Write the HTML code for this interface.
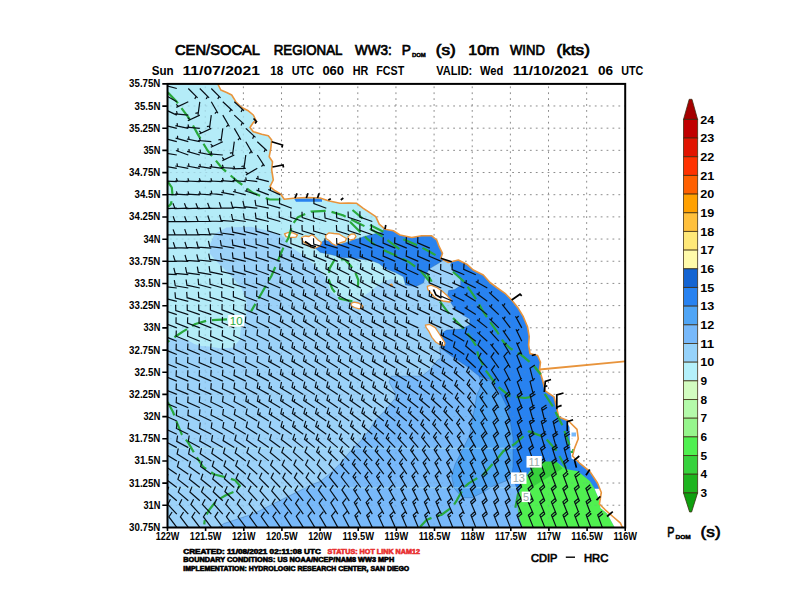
<!DOCTYPE html>
<html><head><meta charset="utf-8"><title>CEN/SOCAL REGIONAL WW3</title>
<style>
html,body{margin:0;padding:0;background:#fff;}
body{width:792px;height:612px;position:relative;overflow:hidden;font-family:"Liberation Sans",sans-serif;}
svg text{font-family:"Liberation Sans",sans-serif;}
</style></head><body>
<svg width="792" height="612" viewBox="0 0 792 612" style="position:absolute;left:0;top:0">
<defs>
<clipPath id="cf"><rect x="167.5" y="83.9" width="457.7" height="443.6"/></clipPath>
<clipPath id="cs"><polygon points="167.5,83.9 218.3,84.0 218.3,85.0 220.8,90.0 226.7,92.5 231.7,95.0 235.8,101.7 241.7,107.5 248.3,110.8 253.3,115.0 255.8,120.0 253.3,122.5 250.0,127.5 253.3,131.7 261.7,134.2 268.3,135.8 271.7,140.0 270.8,148.3 269.2,156.7 272.5,161.7 271.7,170.0 273.3,180.0 270.0,186.7 275.0,190.8 280.8,194.2 284.2,199.2 293.3,198.3 306.7,197.5 320.0,198.0 328.3,200.8 340.0,203.3 348.3,203.0 356.7,203.3 363.3,208.3 368.3,211.7 375.8,216.7 379.2,224.2 385.0,229.2 393.3,230.8 400.0,235.0 411.7,237.5 421.7,235.8 431.7,235.8 436.7,240.0 439.2,246.7 442.5,253.3 440.8,258.3 448.3,262.5 458.3,260.0 466.7,264.2 473.3,270.0 483.3,275.0 490.0,282.5 496.7,287.5 505.0,293.3 511.7,300.0 518.3,308.3 523.3,316.7 527.5,326.7 529.2,336.7 528.6,345.0 530.0,353.6 537.6,355.5 540.5,362.2 539.5,370.0 542.4,379.5 545.3,391.0 554.0,396.8 556.8,408.3 558.7,417.0 568.3,420.8 577.0,429.4 578.3,438.8 574.5,448.4 572.5,456.0 580.2,463.7 589.8,471.4 597.5,483.0 601.3,492.5 599.4,504.0 605.2,509.8 612.8,516.5 620.5,523.2 622.4,527.5 167.5,527.5"/></clipPath>
</defs>
<rect width="792" height="612" fill="#fff"/>
<g stroke="#8c8c8c" stroke-opacity="1" stroke-width="1" stroke-dasharray="1.8 4.1" fill="none"><path d="M205.24 86.4V527.5"/><path d="M243.38 86.4V527.5"/><path d="M281.53 86.4V527.5"/><path d="M319.67 86.4V527.5"/><path d="M357.81 86.4V527.5"/><path d="M395.95 86.4V527.5"/><path d="M434.09 86.4V527.5"/><path d="M472.23 86.4V527.5"/><path d="M510.38 86.4V527.5"/><path d="M548.52 86.4V527.5"/><path d="M586.66 86.4V527.5"/><path d="M170.0 105.98H625.2"/><path d="M170.0 128.16H625.2"/><path d="M170.0 150.34H625.2"/><path d="M170.0 172.52H625.2"/><path d="M170.0 194.70H625.2"/><path d="M170.0 216.88H625.2"/><path d="M170.0 239.06H625.2"/><path d="M170.0 261.24H625.2"/><path d="M170.0 283.42H625.2"/><path d="M170.0 305.60H625.2"/><path d="M170.0 327.78H625.2"/><path d="M170.0 349.96H625.2"/><path d="M170.0 372.14H625.2"/><path d="M170.0 394.32H625.2"/><path d="M170.0 416.50H625.2"/><path d="M170.0 438.68H625.2"/><path d="M170.0 460.86H625.2"/><path d="M170.0 483.04H625.2"/><path d="M170.0 505.22H625.2"/></g>
<g clip-path="url(#cf)">
<g clip-path="url(#cs)">
<polygon points="167.5,83.9 218.3,84.0 218.3,85.0 220.8,90.0 226.7,92.5 231.7,95.0 235.8,101.7 241.7,107.5 248.3,110.8 253.3,115.0 255.8,120.0 253.3,122.5 250.0,127.5 253.3,131.7 261.7,134.2 268.3,135.8 271.7,140.0 270.8,148.3 269.2,156.7 272.5,161.7 271.7,170.0 273.3,180.0 270.0,186.7 275.0,190.8 280.8,194.2 284.2,199.2 293.3,198.3 306.7,197.5 320.0,198.0 328.3,200.8 340.0,203.3 348.3,203.0 356.7,203.3 363.3,208.3 368.3,211.7 375.8,216.7 379.2,224.2 385.0,229.2 393.3,230.8 400.0,235.0 411.7,237.5 421.7,235.8 431.7,235.8 436.7,240.0 439.2,246.7 442.5,253.3 440.8,258.3 448.3,262.5 458.3,260.0 466.7,264.2 473.3,270.0 483.3,275.0 490.0,282.5 496.7,287.5 505.0,293.3 511.7,300.0 518.3,308.3 523.3,316.7 527.5,326.7 529.2,336.7 528.6,345.0 530.0,353.6 537.6,355.5 540.5,362.2 539.5,370.0 542.4,379.5 545.3,391.0 554.0,396.8 556.8,408.3 558.7,417.0 568.3,420.8 577.0,429.4 578.3,438.8 574.5,448.4 572.5,456.0 580.2,463.7 589.8,471.4 597.5,483.0 601.3,492.5 599.4,504.0 605.2,509.8 612.8,516.5 620.5,523.2 622.4,527.5 167.5,527.5" fill="#b4ecf8"/>
<polygon points="167.5,337.7 177.7,338.2 189.5,341.2 194.4,344.1 201.3,346.0 208.8,346.4 222.1,348.6 233.1,347.5 239.7,339.8 240.8,328.8 244.2,322.1 246.4,313.3 246.4,300.0 241.9,289.0 233.1,278.0 224.3,269.2 215.5,260.3 209.9,253.7 209.9,244.9 214.5,234.0 226.5,227.5 251.1,226.8 271.4,231.5 284.0,237.0 290.0,246.3 302.1,254.4 316.3,266.6 326.4,278.7 330.5,290.9 342.6,301.0 356.8,301.0 371.0,290.9 381.1,282.8 391.2,278.7 405.4,284.8 415.5,286.8 423.6,282.8 425.6,274.7 429.7,268.6 439.8,262.5 441.8,258.5 448.0,262.0 455.0,266.0 465.0,272.0 480.0,285.0 500.0,300.0 520.0,330.0 535.0,380.0 560.0,440.0 600.0,527.5 167.5,527.5" fill="#9cd2f9"/>
<polygon points="439.7,347.0 441.0,358.4 437.7,360.0 429.6,370.1 421.5,376.2 391.1,376.2 389.1,382.3 395.1,392.4 395.1,398.5 385.0,410.6 374.9,420.7 368.8,430.9 360.7,441.0 350.6,451.1 340.5,463.2 330.4,473.4 320.2,481.5 312.5,484.3 285.0,498.0 253.7,513.7 224.0,523.5 218.0,527.5 600.0,527.5 560.0,440.0 535.0,380.0 520.0,340.0 480.0,340.0" fill="#78b9fa" stroke="#2a5a98" stroke-opacity="0.45" stroke-width="0.8"/>
<polygon points="479.0,376.0 481.5,383.7 479.3,390.0 476.9,394.4 474.5,408.8 472.0,420.8 469.7,435.2 462.5,449.7 455.2,464.0 451.6,476.0 454.0,488.0 462.5,497.7 472.0,497.7 481.7,493.0 493.7,485.7 505.7,481.0 513.0,476.0 520.0,470.0 520.0,400.0 500.0,385.0" fill="#50a5f5" stroke="#2a5a98" stroke-opacity="0.45" stroke-width="0.8"/>
<polygon points="314.3,247.3 324.4,240.2 340.6,244.3 350.7,241.3 352.0,240.0 360.0,238.3 363.3,236.7 383.3,231.7 384.0,225.0 445.0,225.0 445.0,258.5 439.8,262.5 429.7,268.6 425.6,274.7 423.6,282.8 415.5,286.8 405.4,284.8 403.4,276.7 395.3,272.6 385.1,268.6 379.1,263.5 371.0,260.5 356.8,258.5 342.6,257.4 330.5,254.4 320.4,252.4" fill="#2882f0" stroke="#2a5a98" stroke-opacity="0.45" stroke-width="0.8"/>
<polygon points="294.0,198.6 322.0,198.4 322.0,201.8 296.0,201.8" fill="#2882f0"/>
<polygon points="451.6,261.3 450.6,265.3 453.6,272.4 460.7,278.5 460.7,285.5 454.7,289.6 448.6,290.6 447.6,295.7 449.6,300.7 454.7,308.8 462.8,314.9 469.8,319.0 469.8,325.0 460.7,329.1 446.6,330.1 440.5,334.1 439.5,341.2 441.0,348.2 451.1,355.8 466.3,366.0 479.0,376.0 491.3,380.0 500.9,394.4 508.0,408.8 510.5,423.2 513.0,437.6 513.0,452.0 513.0,466.5 511.7,476.0 517.7,490.0 517.7,505.0 518.9,517.0 522.5,527.5 640.0,527.5 640.0,255.0 452.0,255.0" fill="#2882f0" stroke="#2a5a98" stroke-opacity="0.45" stroke-width="0.8"/>
<polygon points="518.9,492.9 522.5,483.3 529.7,471.3 541.7,462.9 556.1,461.7 565.7,468.9 577.8,471.3 589.8,480.9 594.6,488.7 599.4,500.2 600.4,507.9 607.1,513.6 614.8,527.5 522.5,527.5 518.9,517.0 517.7,505.0" fill="#50f050"/>
<polygon points="541.8,461.5 556.2,461.5 562.5,468.5 531.5,487.5 529.5,474.0 534.0,467.0" fill="#37d23c"/>
<polygon points="566.5,421.8 569.5,427 570,445 571.5,458.5 576,461 582,461 582,421.8" fill="#fff"/>
<rect x="571.5" y="432.5" width="4.5" height="4" fill="#78b9fa"/><rect x="572" y="449" width="3" height="4" fill="#50c060"/>
<polygon points="594.6,488.7 599.4,500.2 600.4,507.9 607.1,513.6 614.8,527.5 640,527.5 640,488.7" fill="#fff"/>
<path d="M167 448.2H520M167 487.8H520" stroke="#c8f8e8" stroke-opacity="0.45" stroke-width="1" fill="none"/>
<g stroke="#7090a0" stroke-opacity="0.28" stroke-width="1" stroke-dasharray="1.8 4.1" fill="none"><path d="M205.24 86.4V527.5"/><path d="M243.38 86.4V527.5"/><path d="M281.53 86.4V527.5"/><path d="M319.67 86.4V527.5"/><path d="M357.81 86.4V527.5"/><path d="M395.95 86.4V527.5"/><path d="M434.09 86.4V527.5"/><path d="M472.23 86.4V527.5"/><path d="M510.38 86.4V527.5"/><path d="M548.52 86.4V527.5"/><path d="M586.66 86.4V527.5"/><path d="M170.0 105.98H625.2"/><path d="M170.0 128.16H625.2"/><path d="M170.0 150.34H625.2"/><path d="M170.0 172.52H625.2"/><path d="M170.0 194.70H625.2"/><path d="M170.0 216.88H625.2"/><path d="M170.0 239.06H625.2"/><path d="M170.0 261.24H625.2"/><path d="M170.0 283.42H625.2"/><path d="M170.0 305.60H625.2"/><path d="M170.0 327.78H625.2"/><path d="M170.0 349.96H625.2"/><path d="M170.0 372.14H625.2"/><path d="M170.0 394.32H625.2"/><path d="M170.0 416.50H625.2"/><path d="M170.0 438.68H625.2"/><path d="M170.0 460.86H625.2"/><path d="M170.0 483.04H625.2"/><path d="M170.0 505.22H625.2"/></g>
</g>
<polygon points="284.5,233.8 288.0,232.5 293.0,232.8 297.5,234.8 296.0,237.2 290.0,237.5 286.0,236.6" fill="#fff" stroke="#e8943c" stroke-width="1.3" stroke-linejoin="round"/>
<polygon points="301.5,237.5 305.0,236.0 309.0,236.5 312.0,234.5 315.0,237.0 318.0,240.0 321.5,242.5 320.0,246.0 315.0,248.0 311.0,247.5 307.0,244.5 303.0,241.5" fill="#fff" stroke="#e8943c" stroke-width="1.3" stroke-linejoin="round"/>
<polygon points="325.5,235.5 329.0,232.8 334.0,233.5 339.0,234.0 343.0,236.5 346.5,238.5 345.0,241.5 340.0,242.8 336.0,245.5 332.0,243.5 329.0,240.5 326.0,238.5" fill="#fff" stroke="#e8943c" stroke-width="1.3" stroke-linejoin="round"/>
<polygon points="348.0,236.5 351.0,234.2 354.5,234.0 356.0,236.5 354.0,239.2 350.5,240.0 348.3,238.8" fill="#fff" stroke="#e8943c" stroke-width="1.3" stroke-linejoin="round"/>
<polygon points="427.3,286.3 431.0,285.2 436.5,287.3 442.0,291.0 447.0,295.5 451.0,300.0 449.5,302.0 443.0,301.0 437.5,299.5 433.5,296.0 430.5,292.5 427.8,289.5" fill="#fff" stroke="#e8943c" stroke-width="1.3" stroke-linejoin="round"/>
<polygon points="425.4,325.1 429.4,324.3 435.2,327.6 438.4,332.5 441.7,337.4 445.0,343.1 444.2,345.6 440.1,344.7 436.0,342.3 431.9,337.4 428.6,330.8 426.2,327.6" fill="#fff" stroke="#e8943c" stroke-width="1.3" stroke-linejoin="round"/>
<polygon points="390.3,284.6 391.8,284.2 392.3,285.6 390.8,286.2" fill="#fff" stroke="#e8943c" stroke-width="1.3" stroke-linejoin="round"/>
<polygon points="350.9,303.5 354.0,302.2 358.5,303.0 362.5,305.5 362.8,308.0 359.0,308.8 354.5,307.5 351.5,305.8" fill="#fff" stroke="#e8943c" stroke-width="1.3" stroke-linejoin="round"/>
<polyline points="218.3,84.0 218.3,85.0 220.8,90.0 226.7,92.5 231.7,95.0 235.8,101.7 241.7,107.5 248.3,110.8 253.3,115.0 255.8,120.0 253.3,122.5 250.0,127.5 253.3,131.7 261.7,134.2 268.3,135.8 271.7,140.0 270.8,148.3 269.2,156.7 272.5,161.7 271.7,170.0 273.3,180.0 270.0,186.7 275.0,190.8 280.8,194.2 284.2,199.2 293.3,198.3 306.7,197.5 320.0,198.0 328.3,200.8 340.0,203.3 348.3,203.0 356.7,203.3 363.3,208.3 368.3,211.7 375.8,216.7 379.2,224.2 385.0,229.2 393.3,230.8 400.0,235.0 411.7,237.5 421.7,235.8 431.7,235.8 436.7,240.0 439.2,246.7 442.5,253.3 440.8,258.3 448.3,262.5 458.3,260.0 466.7,264.2 473.3,270.0 483.3,275.0 490.0,282.5 496.7,287.5 505.0,293.3 511.7,300.0 518.3,308.3 523.3,316.7 527.5,326.7 529.2,336.7 528.6,345.0 530.0,353.6 537.6,355.5 540.5,362.2 539.5,370.0 542.4,379.5 545.3,391.0 554.0,396.8 556.8,408.3 558.7,417.0 568.3,420.8 577.0,429.4 578.3,438.8 574.5,448.4 572.5,456.0 580.2,463.7 589.8,471.4 597.5,483.0 601.3,492.5 599.4,504.0 605.2,509.8 612.8,516.5 620.5,523.2 622.4,527.5" fill="none" stroke="#e8943c" stroke-width="1.6" stroke-linejoin="round"/>
<path d="M539.5 369.5L625 361.3" stroke="#e8943c" stroke-width="1.8" fill="none"/>
<polyline points="167.7,92.3 176.3,101.2 188.6,117.6 197.6,133.9 207.4,150.3 222.1,168.2 237.7,181.5 252.8,192.8 269.7,199.5 284.7,199.5" fill="none" stroke="#28a83c" stroke-width="2.2" stroke-dasharray="15 6" stroke-linecap="butt" stroke-linejoin="round"/>
<polyline points="167.8,181.6 171.8,187.5 172.7,197.3 170.8,204.1 167.8,207.0" fill="none" stroke="#28a83c" stroke-width="2.2" stroke-dasharray="15 6" stroke-linecap="butt" stroke-linejoin="round"/>
<polyline points="399.4,249.2 384.4,237.9 373.0,230.4 358.0,222.9 343.0,215.3 328.0,210.8 311.0,211.6 297.9,217.2 292.3,224.7 288.5,237.9 284.0,246.0 279.0,258.2 271.4,276.0 261.3,293.7 251.1,311.4" fill="none" stroke="#28a83c" stroke-width="2.2" stroke-dasharray="15 6" stroke-linecap="butt" stroke-linejoin="round"/>
<polyline points="227.0,319.3 208.1,320.3 195.4,324.0 182.8,331.6 167.6,341.8" fill="none" stroke="#28a83c" stroke-width="2.2" stroke-dasharray="15 6" stroke-linecap="butt" stroke-linejoin="round"/>
<polyline points="167.7,402.0 173.0,412.0 177.2,423.3 182.0,434.8 188.2,442.6 195.7,455.7 203.2,467.0 214.5,474.5 225.8,477.3 235.2,480.2 239.9,485.8 235.2,491.4 225.8,495.2 216.4,500.8 208.9,510.2 205.1,517.7 204.2,524.3" fill="none" stroke="#28a83c" stroke-width="2.2" stroke-dasharray="15 6" stroke-linecap="butt" stroke-linejoin="round"/>
<polyline points="352.4,301.3 339.7,298.7 332.2,288.6 328.4,278.5 329.6,268.4 334.7,259.5 344.8,259.5 350.0,265.0 355.0,271.7 358.3,280.0 357.5,291.7" fill="none" stroke="#28a83c" stroke-width="2.2" stroke-dasharray="15 6" stroke-linecap="butt" stroke-linejoin="round"/>
<polyline points="352.5,210.0 362.5,218.3" fill="none" stroke="#28a83c" stroke-width="2.2" stroke-dasharray="15 6" stroke-linecap="butt" stroke-linejoin="round"/>
<polyline points="350.0,221.7 360.0,231.7 366.7,238.3 375.0,245.0" fill="none" stroke="#28a83c" stroke-width="2.2" stroke-dasharray="15 6" stroke-linecap="butt" stroke-linejoin="round"/>
<polyline points="370.0,225.0 383.3,231.7" fill="none" stroke="#28a83c" stroke-width="2.2" stroke-dasharray="15 6" stroke-linecap="butt" stroke-linejoin="round"/>
<polyline points="383.3,250.0 398.3,256.7 408.3,261.7 420.0,270.0 428.3,280.0 433.3,285.0" fill="none" stroke="#28a83c" stroke-width="2.2" stroke-dasharray="15 6" stroke-linecap="butt" stroke-linejoin="round"/>
<polyline points="403.3,239.2 416.7,245.0 426.7,250.0 438.3,256.7" fill="none" stroke="#28a83c" stroke-width="2.2" stroke-dasharray="15 6" stroke-linecap="butt" stroke-linejoin="round"/>
<polyline points="426.7,273.3 431.7,281.7" fill="none" stroke="#28a83c" stroke-width="2.2" stroke-dasharray="15 6" stroke-linecap="butt" stroke-linejoin="round"/>
<polyline points="440.0,301.7 445.0,308.3 450.0,315.0 455.0,320.0 463.3,328.3 470.0,336.7 476.7,346.7 478.0,354.9 485.9,370.6 497.6,386.3 509.4,396.0 525.0,398.0 536.9,396.0" fill="none" stroke="#28a83c" stroke-width="2.2" stroke-dasharray="15 6" stroke-linecap="butt" stroke-linejoin="round"/>
<polyline points="453.0,271.7 463.3,281.0 470.0,290.0 476.7,300.0 483.3,311.7 490.0,321.7 497.0,331.5 503.3,341.7 510.0,348.3 521.2,354.9 532.9,364.7 540.8,374.5" fill="none" stroke="#28a83c" stroke-width="2.2" stroke-dasharray="15 6" stroke-linecap="butt" stroke-linejoin="round"/>
<polyline points="544.7,394.0 552.5,405.9 562.4,425.5 568.2,441.2 572.0,453.0" fill="none" stroke="#28a83c" stroke-width="2.2" stroke-dasharray="15 6" stroke-linecap="butt" stroke-linejoin="round"/>
<polyline points="420.0,527.0 426.5,519.9 434.7,516.6 441.2,515.0 452.7,506.8 456.8,500.3 464.1,487.2 469.0,483.1 483.7,474.1 496.8,459.4 503.3,451.2 514.8,443.9 529.0,431.4 544.7,437.3 556.0,450.0 566.0,468.0" fill="none" stroke="#28a83c" stroke-width="2.2" stroke-dasharray="15 6" stroke-linecap="butt" stroke-linejoin="round"/>
<polyline points="515.3,507.8 519.2,488.2 527.0,472.5 536.9,464.7" fill="none" stroke="#28a83c" stroke-width="2.2" stroke-dasharray="15 6" stroke-linecap="butt" stroke-linejoin="round"/>
<path d="M176.8 527.4L168.9 516.9l3.2 -4.9M188.3 527.4L180.4 516.9l3.2 -4.9M199.8 527.4L191.9 516.9l3.2 -4.9M211.3 527.4L203.4 516.9l3.2 -4.9M222.8 527.4L214.9 516.8l3.2 -4.9M234.3 527.4L226.4 516.8l3.2 -4.8M245.8 527.4L238.0 516.8l3.2 -4.8M257.3 527.4L249.6 516.7l3.3 -4.8M268.8 527.4L261.2 516.6l3.3 -4.7M280.3 527.4L272.9 516.5l3.4 -4.7M291.8 527.4L284.6 516.4l3.5 -4.6M303.3 527.4L296.3 516.2l3.6 -4.6M314.8 527.4L308.0 516.1l3.6 -4.5M326.3 527.4L319.7 516.0l3.7 -4.4M337.8 527.4L331.5 515.8l3.8 -4.4M349.3 527.4L343.2 515.7l3.9 -4.3M360.8 527.4L354.9 515.6l4.0 -4.2M356.0 517.7l2.1 -2.2M372.3 527.4L366.7 515.5l4.1 -4.1M367.7 517.6l2.1 -2.1M383.8 527.4L378.3 515.4l4.1 -4.1M379.3 517.6l2.1 -2.1M395.3 527.4L389.9 515.3l4.2 -4.0M390.9 517.5l2.2 -2.1M406.8 527.4L401.6 515.3l4.2 -4.0M402.5 517.5l2.2 -2.1M418.3 527.4L413.2 515.2l4.2 -3.9M414.1 517.5l2.2 -2.0M429.8 527.4L424.7 515.2l4.3 -3.9M425.6 517.4l2.2 -2.0M441.3 527.4L436.3 515.2l4.3 -3.9M437.2 517.4l2.2 -2.0M452.8 527.4L447.8 515.2l4.3 -3.9M448.7 517.4l2.2 -2.0M464.3 527.4L459.4 515.2l4.3 -3.9M460.3 517.4l2.2 -2.0M475.8 527.4L470.9 515.2l4.3 -3.9M471.8 517.4l4.3 -3.9M487.3 527.4L482.4 515.2l4.3 -3.9M483.3 517.4l4.3 -3.9M498.8 527.4L493.9 515.2l4.3 -3.9M494.8 517.4l4.3 -3.9M510.3 527.4L505.4 515.2l4.3 -3.9M506.3 517.4l4.3 -3.9M521.8 527.4L516.9 515.2l4.3 -3.9M517.8 517.4l4.3 -3.9M533.3 527.4L528.4 515.2l4.3 -3.9M529.3 517.4l4.3 -3.9M544.8 527.4L539.9 515.1l4.3 -3.9M540.8 517.4l4.3 -3.9M556.3 527.4L551.5 515.1l4.3 -3.8M552.3 517.3l4.3 -3.8M567.8 527.4L563.0 515.1l4.4 -3.8M563.9 517.3l4.4 -3.8M579.3 527.4L574.6 515.1l4.4 -3.8M575.4 517.3l4.4 -3.8M590.8 527.4L586.2 515.0l4.4 -3.8M587.0 517.3l4.4 -3.8M602.3 527.4L597.7 515.0l4.4 -3.8M598.6 517.3l4.4 -3.8M176.8 514.1L167.8 504.5l2.6 -5.2M188.3 514.1L179.3 504.4l2.6 -5.2M199.8 514.1L190.9 504.4l2.7 -5.2M211.3 514.1L202.4 504.3l2.7 -5.1M222.8 514.1L214.0 504.2l2.8 -5.1M234.3 514.1L225.7 504.1l2.8 -5.1M245.8 514.1L237.3 504.0l2.9 -5.0M257.3 514.1L249.0 503.9l3.0 -5.0M268.8 514.1L260.6 503.7l3.0 -4.9M280.3 514.1L272.3 503.6l3.1 -4.9M291.8 514.1L283.9 503.5l3.2 -4.8M303.3 514.1L295.6 503.4l3.3 -4.8M314.8 514.1L307.3 503.2l3.4 -4.7M326.3 514.1L319.1 503.1l3.5 -4.6M337.8 514.1L330.8 502.9l3.6 -4.6M349.3 514.1L342.6 502.8l3.7 -4.5M360.8 514.1L354.3 502.6l3.8 -4.4M355.5 504.7l2.0 -2.3M372.3 514.1L366.1 502.5l3.9 -4.3M367.2 504.6l2.0 -2.2M383.8 514.1L377.8 502.4l3.9 -4.3M378.9 504.5l2.0 -2.2M395.3 514.1L389.4 502.3l4.0 -4.2M390.5 504.4l2.1 -2.2M406.8 514.1L401.1 502.2l4.1 -4.1M402.1 504.4l2.1 -2.1M418.3 514.1L412.8 502.1l4.1 -4.1M413.8 504.3l2.1 -2.1M429.8 514.1L424.4 502.1l4.1 -4.1M425.3 504.3l2.1 -2.1M441.3 514.1L435.9 502.0l4.2 -4.0M436.9 504.2l2.2 -2.1M452.8 514.1L447.5 502.0l4.2 -4.0M448.5 504.2l2.2 -2.1M464.3 514.1L459.1 502.0l4.2 -4.0M460.0 504.2l2.2 -2.1M475.8 514.1L470.6 502.0l4.2 -4.0M471.5 504.2l4.2 -4.0M487.3 514.1L482.1 502.0l4.2 -4.0M483.1 504.2l4.2 -4.0M498.8 514.1L493.7 501.9l4.2 -3.9M494.6 504.2l4.2 -3.9M510.3 514.1L505.2 501.9l4.3 -3.9M506.1 504.1l4.3 -3.9M521.8 514.1L516.7 501.9l4.3 -3.9M517.6 504.1l4.3 -3.9M533.3 514.1L528.2 501.9l4.3 -3.9M529.2 504.1l4.3 -3.9M544.8 514.1L539.8 501.9l4.3 -3.9M540.7 504.1l4.3 -3.9M556.3 514.1L551.4 501.9l4.3 -3.9M552.3 504.1l4.3 -3.9M567.8 514.1L562.9 501.8l4.3 -3.9M563.8 504.1l4.3 -3.9M579.3 514.1L574.5 501.8l4.4 -3.8M575.4 504.0l4.4 -3.8M590.8 514.1L586.1 501.8l4.4 -3.8M586.9 504.0l4.4 -3.8M176.8 500.8L166.8 492.2l2.0 -5.4M188.3 500.8L178.3 492.1l2.1 -5.4M199.8 500.8L189.9 492.0l2.1 -5.4M211.3 500.8L201.5 491.9l2.2 -5.4M222.8 500.8L213.2 491.8l2.3 -5.3M234.3 500.8L224.9 491.5l2.4 -5.3M245.8 500.8L236.6 491.3l2.6 -5.2M257.3 500.8L248.4 491.1l2.7 -5.2M268.8 500.8L260.0 491.0l2.7 -5.1M280.3 500.8L271.7 490.8l2.8 -5.1M291.8 500.8L283.3 490.7l2.9 -5.0M303.3 500.8L295.0 490.5l3.0 -5.0M314.8 500.8L306.7 490.4l3.1 -4.9M326.3 500.8L318.4 490.2l3.2 -4.8M337.8 500.8L330.1 490.0l3.3 -4.8M349.3 500.8L341.9 489.9l3.4 -4.7M360.8 500.8L353.7 489.7l3.5 -4.6M355.0 491.7l1.8 -2.4M372.3 500.8L365.5 489.5l3.6 -4.5M366.7 491.6l1.9 -2.3M383.8 500.8L377.2 489.4l3.7 -4.4M378.4 491.4l1.9 -2.3M395.3 500.8L388.9 489.2l3.8 -4.4M390.1 491.3l2.0 -2.3M406.8 500.8L400.7 489.1l3.9 -4.3M401.8 491.2l2.0 -2.2M418.3 500.8L412.4 489.0l4.0 -4.2M413.4 491.2l2.1 -2.2M429.8 500.8L424.0 489.0l4.0 -4.2M425.0 491.1l2.1 -2.2M441.3 500.8L435.6 488.9l4.1 -4.1M436.6 491.1l2.1 -2.1M452.8 500.8L447.2 488.8l4.1 -4.1M448.2 491.0l2.1 -2.1M464.3 500.8L458.8 488.8l4.1 -4.1M459.8 491.0l2.1 -2.1M475.8 500.8L470.3 488.8l4.1 -4.1M471.3 491.0l4.1 -4.1M487.3 500.8L481.9 488.8l4.2 -4.0M482.9 490.9l4.2 -4.0M498.8 500.8L493.5 488.7l4.2 -4.0M494.4 490.9l4.2 -4.0M510.3 500.8L505.0 488.7l4.2 -4.0M506.0 490.9l4.2 -4.0M521.8 500.8L516.6 488.7l4.2 -4.0M517.5 490.9l4.2 -4.0M533.3 500.8L528.1 488.7l4.2 -4.0M529.1 490.9l4.2 -4.0M544.8 500.8L539.7 488.6l4.3 -3.9M540.6 490.8l4.3 -3.9M556.3 500.8L551.3 488.6l4.3 -3.9M552.2 490.8l4.3 -3.9M567.8 500.8L562.8 488.6l4.3 -3.9M563.7 490.8l4.3 -3.9M579.3 500.8L574.4 488.5l4.3 -3.9M575.3 490.8l4.3 -3.9M590.8 500.8L585.9 488.5l4.3 -3.8M586.8 490.8l4.3 -3.8M176.8 487.5L166.3 479.5l1.7 -5.5M188.3 487.5L177.9 479.4l1.8 -5.5M199.8 487.5L189.4 479.3l1.8 -5.5M211.3 487.5L201.0 479.2l1.9 -5.5M222.8 487.5L212.7 479.0l2.0 -5.4M234.3 487.5L224.4 478.8l2.1 -5.4M245.8 487.5L236.1 478.5l2.3 -5.3M257.3 487.5L247.8 478.3l2.4 -5.3M268.8 487.5L259.5 478.1l2.5 -5.3M280.3 487.5L271.1 478.0l2.5 -5.2M291.8 487.5L282.8 477.9l2.6 -5.2M303.3 487.5L294.4 477.7l2.7 -5.1M314.8 487.5L306.1 477.6l2.8 -5.1M326.3 487.5L317.8 477.4l2.9 -5.0M337.8 487.5L329.5 477.2l3.0 -5.0M349.3 487.5L341.3 477.0l3.1 -4.9M360.8 487.5L353.0 476.8l3.2 -4.8M354.4 478.8l1.7 -2.5M372.3 487.5L364.8 476.6l3.4 -4.7M366.2 478.6l1.7 -2.4M383.8 487.5L376.6 476.5l3.5 -4.6M377.9 478.5l1.8 -2.4M395.3 487.5L388.3 476.3l3.6 -4.6M389.6 478.3l1.9 -2.4M406.8 487.5L400.1 476.1l3.7 -4.5M401.3 478.2l1.9 -2.3M418.3 487.5L411.9 476.0l3.8 -4.4M413.0 478.1l2.0 -2.3M429.8 487.5L423.5 475.9l3.9 -4.3M424.7 478.0l2.0 -2.2M441.3 487.5L435.2 475.8l3.9 -4.3M436.3 477.9l2.0 -2.2M452.8 487.5L446.9 475.7l4.0 -4.2M448.0 477.8l2.1 -2.2M464.3 487.5L458.6 475.6l4.0 -4.2M459.6 477.8l2.1 -2.1M475.8 487.5L470.2 475.5l4.1 -4.1M471.2 477.7l2.1 -2.1M487.3 487.5L481.8 475.5l4.1 -4.1M482.8 477.7l4.1 -4.1M498.8 487.5L493.5 475.4l4.2 -4.0M494.4 477.6l4.2 -4.0M510.3 487.5L505.1 475.4l4.2 -4.0M506.0 477.6l4.2 -4.0M521.8 487.5L516.7 475.3l4.3 -3.9M517.6 477.5l4.3 -3.9M533.3 487.5L528.3 475.3l4.3 -3.9M529.2 477.5l4.3 -3.9M544.8 487.5L539.9 475.2l4.3 -3.9M540.8 477.5l4.3 -3.9M556.3 487.5L551.6 475.2l4.4 -3.8M552.4 477.4l4.4 -3.8M567.8 487.5L563.2 475.1l4.4 -3.8M564.0 477.4l4.4 -3.8M579.3 487.5L574.8 475.1l4.5 -3.7M575.6 477.3l4.5 -3.7M176.8 474.2L165.9 466.8l1.4 -5.6M188.3 474.2L177.4 466.7l1.5 -5.6M199.8 474.2L189.0 466.6l1.5 -5.6M211.3 474.2L200.6 466.5l1.6 -5.6M222.8 474.2L212.3 466.3l1.7 -5.5M234.3 474.2L224.0 466.0l1.8 -5.5M245.8 474.2L235.7 465.7l2.0 -5.5M257.3 474.2L247.4 465.5l2.1 -5.4M268.8 474.2L259.0 465.4l2.2 -5.4M280.3 474.2L270.6 465.2l2.3 -5.3M291.8 474.2L282.3 465.1l2.3 -5.3M303.3 474.2L293.9 464.9l2.4 -5.3M314.8 474.2L305.6 464.8l2.5 -5.2M326.3 474.2L317.2 464.6l2.6 -5.2M337.8 474.2L328.9 464.5l2.7 -5.1M349.3 474.2L340.6 464.3l2.8 -5.1M342.2 466.1l1.5 -2.6M360.8 474.2L352.4 464.0l2.9 -5.0M353.9 465.9l1.5 -2.6M372.3 474.2L364.1 463.8l3.1 -4.9M365.6 465.7l1.6 -2.6M383.8 474.2L375.9 463.6l3.2 -4.8M377.4 465.5l1.7 -2.5M395.3 474.2L387.7 463.4l3.3 -4.7M389.1 465.4l1.7 -2.5M406.8 474.2L399.5 463.2l3.5 -4.7M400.9 465.2l1.8 -2.4M418.3 474.2L411.3 463.0l3.6 -4.6M412.6 465.0l1.9 -2.4M429.8 474.2L423.1 462.8l3.7 -4.5M424.3 464.9l1.9 -2.3M441.3 474.2L434.9 462.7l3.8 -4.4M436.0 464.8l2.0 -2.3M452.8 474.2L446.6 462.5l3.9 -4.3M447.8 464.6l2.0 -2.2M464.3 474.2L458.4 462.4l4.0 -4.2M459.4 464.6l2.1 -2.2M475.8 474.2L470.1 462.3l4.0 -4.2M471.1 464.5l2.1 -2.1M487.3 474.2L481.8 462.2l4.1 -4.1M482.8 464.4l4.1 -4.1M498.8 474.2L493.5 462.1l4.2 -4.0M494.5 464.3l4.2 -4.0M510.3 474.2L505.2 462.0l4.2 -4.0M506.1 464.3l4.2 -4.0M521.8 474.2L516.8 462.0l4.3 -3.9M517.7 464.2l4.3 -3.9M533.3 474.2L528.5 461.9l4.4 -3.8M529.4 464.1l4.4 -3.8M544.8 474.2L540.2 461.8l4.4 -3.8M541.0 464.1l4.4 -3.8M556.3 474.2L551.9 461.7l4.5 -3.7M552.7 464.0l4.5 -3.7M567.8 474.2L563.6 461.7l4.5 -3.6M564.4 463.9l4.5 -3.6M176.8 460.9L165.5 454.1l1.1 -5.7M188.3 460.9L177.1 454.0l1.2 -5.7M199.8 460.9L188.6 453.9l1.2 -5.7M211.3 460.9L200.2 453.8l1.3 -5.7M222.8 460.9L211.8 453.5l1.4 -5.6M234.3 460.9L223.5 453.3l1.5 -5.6M245.8 460.9L235.2 453.0l1.7 -5.6M257.3 460.9L246.9 452.8l1.8 -5.5M268.8 460.9L258.5 452.6l1.9 -5.5M280.3 460.9L270.2 452.5l2.0 -5.5M291.8 460.9L281.8 452.3l2.0 -5.4M303.3 460.9L293.4 452.2l2.1 -5.4M314.8 460.9L305.0 452.0l2.2 -5.4M326.3 460.9L316.6 451.9l2.3 -5.3M318.4 453.5l1.2 -2.8M337.8 460.9L328.3 451.8l2.3 -5.3M330.0 453.4l1.2 -2.7M349.3 460.9L340.0 451.5l2.5 -5.3M341.7 453.2l1.3 -2.7M360.8 460.9L351.7 451.3l2.6 -5.2M353.4 453.1l1.3 -2.7M372.3 460.9L363.4 451.1l2.7 -5.1M365.0 452.9l1.4 -2.7M383.8 460.9L375.2 450.9l2.8 -5.1M376.7 452.7l1.5 -2.6M395.3 460.9L387.0 450.7l3.0 -5.0M388.5 452.5l1.5 -2.6M406.8 460.9L398.8 450.4l3.1 -4.9M400.2 452.3l1.6 -2.5M418.3 460.9L410.6 450.2l3.3 -4.8M412.0 452.1l1.7 -2.5M429.8 460.9L422.4 450.0l3.4 -4.7M423.7 452.0l1.8 -2.4M441.3 460.9L434.2 449.8l3.5 -4.6M435.5 451.8l1.8 -2.4M452.8 460.9L446.1 449.6l3.7 -4.5M447.3 451.6l1.9 -2.3M464.3 460.9L457.9 449.4l3.8 -4.4M459.1 451.5l2.0 -2.3M475.8 460.9L469.7 449.2l3.9 -4.3M470.8 451.3l2.0 -2.2M487.3 460.9L481.6 449.0l4.0 -4.2M482.6 451.2l4.0 -4.2M498.8 460.9L493.4 448.9l4.2 -4.0M494.4 451.0l4.2 -4.0M510.3 460.9L505.2 448.7l4.3 -3.9M506.1 450.9l4.3 -3.9M521.8 460.9L517.0 448.6l4.4 -3.8M517.9 450.8l4.4 -3.8M533.3 460.9L528.8 448.5l4.4 -3.7M529.6 450.8l4.4 -3.7M544.8 460.9L540.6 448.4l4.5 -3.6M541.3 450.7l4.5 -3.6M556.3 460.9L552.3 448.3l4.6 -3.5M553.1 450.6l4.6 -3.5M567.8 460.9L564.1 448.2l4.7 -3.4M564.8 450.5l4.7 -3.4M176.8 447.6L165.1 441.4l0.8 -5.7M188.3 447.6L176.7 441.3l0.9 -5.7M199.8 447.6L188.3 441.2l0.9 -5.7M211.3 447.6L199.8 441.1l1.0 -5.7M222.8 447.6L211.5 440.9l1.1 -5.7M234.3 447.6L223.1 440.6l1.2 -5.7M245.8 447.6L234.8 440.3l1.4 -5.6M257.3 447.6L246.5 440.0l1.5 -5.6M268.8 447.6L258.1 439.9l1.6 -5.6M280.3 447.6L269.7 439.7l1.7 -5.6M291.8 447.6L281.3 439.6l1.7 -5.5M303.3 447.6L292.9 439.4l1.8 -5.5M294.8 440.9l0.9 -2.8M314.8 447.6L304.5 439.3l1.9 -5.5M306.4 440.8l1.0 -2.8M326.3 447.6L316.1 439.2l1.9 -5.5M318.0 440.7l1.0 -2.8M337.8 447.6L327.7 439.1l2.0 -5.4M329.6 440.6l1.0 -2.8M349.3 447.6L339.4 438.9l2.1 -5.4M341.2 440.5l1.1 -2.8M360.8 447.6L351.0 438.7l2.2 -5.4M352.8 440.3l1.1 -2.8M372.3 447.6L362.7 438.5l2.3 -5.3M364.4 440.2l1.2 -2.8M383.8 447.6L374.4 438.3l2.4 -5.3M376.1 440.0l1.3 -2.7M395.3 447.6L386.2 438.1l2.6 -5.2M387.8 439.8l1.3 -2.7M406.8 447.6L397.9 437.8l2.7 -5.1M399.5 439.6l1.4 -2.7M418.3 447.6L409.7 437.6l2.8 -5.1M411.3 439.4l1.5 -2.6M429.8 447.6L421.6 437.3l3.0 -4.9M423.1 439.2l1.6 -2.6M441.3 447.6L433.5 437.0l3.2 -4.8M434.9 438.9l1.7 -2.5M452.8 447.6L445.3 436.7l3.4 -4.7M446.7 438.7l1.7 -2.4M464.3 447.6L457.3 436.4l3.6 -4.6M458.6 438.4l1.8 -2.4M475.8 447.6L469.3 436.1l3.8 -4.4M470.5 438.2l1.9 -2.3M487.3 447.6L481.3 435.9l3.9 -4.3M482.4 438.0l3.9 -4.3M498.8 447.6L493.3 435.6l4.1 -4.1M494.3 437.8l4.1 -4.1M510.3 447.6L505.2 435.4l4.3 -3.9M506.1 437.6l4.3 -3.9M521.8 447.6L517.2 435.2l4.4 -3.8M518.0 437.5l4.4 -3.8M533.3 447.6L529.1 435.1l4.5 -3.6M529.9 437.3l4.5 -3.6M544.8 447.6L541.0 435.0l4.6 -3.5M541.7 437.3l4.6 -3.5M556.3 447.6L552.8 434.9l4.7 -3.4M553.4 437.2l4.7 -3.4M567.8 447.6L564.6 434.8l4.8 -3.3M565.2 437.1l4.8 -3.3M176.8 434.3L164.9 428.6l0.6 -5.8M188.3 434.3L176.4 428.5l0.6 -5.8M199.8 434.3L188.0 428.4l0.7 -5.8M211.3 434.3L199.6 428.3l0.7 -5.8M222.8 434.3L211.2 428.0l0.8 -5.7M234.3 434.3L222.8 427.7l1.0 -5.7M245.8 434.3L234.5 427.5l1.1 -5.7M257.3 434.3L246.2 427.2l1.3 -5.7M268.8 434.3L257.8 427.0l1.3 -5.6M280.3 434.3L269.4 426.9l1.4 -5.6M291.8 434.3L281.0 426.7l1.5 -5.6M283.0 428.1l0.8 -2.9M303.3 434.3L292.6 426.6l1.6 -5.6M294.5 428.0l0.8 -2.9M314.8 434.3L304.2 426.5l1.6 -5.6M306.1 427.9l0.8 -2.9M326.3 434.3L315.7 426.4l1.7 -5.6M317.7 427.8l0.9 -2.9M337.8 434.3L327.3 426.3l1.7 -5.5M329.2 427.7l0.9 -2.9M349.3 434.3L338.9 426.1l1.8 -5.5M340.8 427.6l0.9 -2.8M360.8 434.3L350.5 426.0l1.9 -5.5M352.4 427.5l1.0 -2.8M372.3 434.3L362.2 425.8l2.0 -5.5M364.0 427.4l1.0 -2.8M383.8 434.3L373.8 425.6l2.1 -5.4M375.6 427.2l1.1 -2.8M395.3 434.3L385.5 425.4l2.2 -5.4M387.3 427.0l1.1 -2.8M406.8 434.3L397.2 425.2l2.3 -5.3M399.0 426.9l1.2 -2.8M418.3 434.3L409.0 425.0l2.5 -5.3M410.7 426.7l1.3 -2.7M429.8 434.3L420.8 424.6l2.7 -5.2M422.5 426.4l1.4 -2.7M441.3 434.3L432.7 424.3l2.9 -5.0M434.3 426.1l1.5 -2.6M452.8 434.3L444.6 423.9l3.0 -4.9M446.1 425.8l1.6 -2.6M464.3 434.3L456.7 423.5l3.3 -4.8M458.1 425.5l1.7 -2.5M475.8 434.3L468.8 423.1l3.6 -4.6M470.1 425.2l1.8 -2.4M487.3 434.3L480.9 422.8l3.8 -4.4M482.1 424.9l2.0 -2.3M498.8 434.3L493.0 422.4l4.0 -4.2M494.1 424.6l4.0 -4.2M510.3 434.3L505.2 422.1l4.3 -3.9M506.1 424.3l4.3 -3.9M521.8 434.3L517.3 421.9l4.5 -3.7M518.1 424.1l4.5 -3.7M533.3 434.3L529.5 421.7l4.6 -3.5M530.2 424.0l4.6 -3.5M544.8 434.3L541.3 421.6l4.7 -3.3M542.0 423.9l4.7 -3.3M556.3 434.3L553.1 421.5l4.8 -3.2M553.7 423.8l4.8 -3.2M176.8 421.0L164.8 415.6l0.4 -5.8M188.3 421.0L176.3 415.5l0.5 -5.8M199.8 421.0L187.9 415.4l0.5 -5.8M211.3 421.0L199.4 415.2l0.6 -5.8M222.8 421.0L211.0 415.0l0.7 -5.8M234.3 421.0L222.7 414.7l0.8 -5.7M245.8 421.0L234.3 414.5l1.0 -5.7M257.3 421.0L246.0 414.2l1.1 -5.7M268.8 421.0L257.6 414.1l1.2 -5.7M259.6 415.3l0.6 -2.9M280.3 421.0L269.2 413.9l1.3 -5.7M271.2 415.2l0.7 -2.9M291.8 421.0L280.8 413.7l1.3 -5.6M282.8 415.1l0.7 -2.9M303.3 421.0L292.4 413.6l1.4 -5.6M294.4 415.0l0.7 -2.9M314.8 421.0L303.9 413.5l1.5 -5.6M305.9 414.9l0.8 -2.9M326.3 421.0L315.5 413.4l1.5 -5.6M317.5 414.8l0.8 -2.9M337.8 421.0L327.1 413.3l1.6 -5.6M329.0 414.7l0.8 -2.9M349.3 421.0L338.7 413.2l1.6 -5.6M340.6 414.6l0.8 -2.9M360.8 421.0L350.3 413.1l1.7 -5.5M352.2 414.5l0.9 -2.9M372.3 421.0L361.8 413.0l1.7 -5.5M363.7 414.4l0.9 -2.9M383.8 421.0L373.4 412.8l1.8 -5.5M375.3 414.3l0.9 -2.8M395.3 421.0L385.1 412.6l1.9 -5.5M386.9 414.2l1.0 -2.8M406.8 421.0L396.7 412.5l2.0 -5.4M398.5 414.0l1.0 -2.8M418.3 421.0L408.4 412.3l2.1 -5.4M410.2 413.9l1.1 -2.8M429.8 421.0L420.2 411.9l2.3 -5.3M422.0 413.6l1.2 -2.8M441.3 421.0L432.0 411.6l2.5 -5.2M433.7 413.3l1.3 -2.7M452.8 421.0L443.9 411.3l2.7 -5.1M445.5 413.0l1.4 -2.7M464.3 421.0L456.0 410.8l3.0 -5.0M457.5 412.6l1.5 -2.6M475.8 421.0L468.2 410.2l3.3 -4.8M469.6 412.2l1.7 -2.5M487.3 421.0L480.4 409.7l3.6 -4.5M481.7 411.8l1.9 -2.3M498.8 421.0L492.7 409.3l3.9 -4.3M493.8 411.4l3.9 -4.3M510.3 421.0L505.0 408.9l4.2 -4.0M506.0 411.1l4.2 -4.0M521.8 421.0L517.4 408.6l4.5 -3.7M518.2 410.8l4.5 -3.7M533.3 421.0L529.7 408.3l4.7 -3.4M530.4 410.6l4.7 -3.4M544.8 421.0L541.6 408.2l4.8 -3.3M542.2 410.5l4.8 -3.3M176.8 407.7L164.6 402.6l0.3 -5.8M188.3 407.7L176.2 402.5l0.3 -5.8M199.8 407.7L187.7 402.3l0.4 -5.8M211.3 407.7L199.3 402.2l0.5 -5.8M222.8 407.7L210.9 402.0l0.6 -5.8M234.3 407.7L222.5 401.7l0.7 -5.8M245.8 407.7L234.1 401.5l0.8 -5.7M257.3 407.7L245.8 401.3l0.9 -5.7M247.9 402.4l0.5 -3.0M268.8 407.7L257.4 401.1l1.0 -5.7M259.4 402.3l0.5 -3.0M280.3 407.7L269.0 400.9l1.1 -5.7M271.0 402.2l0.6 -2.9M291.8 407.7L280.6 400.8l1.2 -5.7M282.6 402.0l0.6 -2.9M303.3 407.7L292.2 400.6l1.2 -5.7M294.2 401.9l0.6 -2.9M314.8 407.7L303.7 400.5l1.3 -5.7M305.7 401.8l0.7 -2.9M326.3 407.7L315.3 400.4l1.4 -5.6M317.3 401.7l0.7 -2.9M337.8 407.7L326.9 400.3l1.4 -5.6M328.9 401.7l0.7 -2.9M349.3 407.7L338.4 400.2l1.4 -5.6M340.4 401.6l0.7 -2.9M360.8 407.7L350.0 400.2l1.5 -5.6M351.9 401.5l0.8 -2.9M372.3 407.7L361.5 400.1l1.5 -5.6M363.5 401.5l0.8 -2.9M383.8 407.7L373.1 400.0l1.6 -5.6M375.0 401.4l0.8 -2.9M395.3 407.7L384.7 399.9l1.6 -5.6M386.6 401.3l0.8 -2.9M406.8 407.7L396.2 399.8l1.7 -5.6M398.1 401.2l0.9 -2.9M418.3 407.7L407.8 399.6l1.8 -5.5M409.7 401.1l0.9 -2.9M429.8 407.7L419.6 399.3l1.9 -5.5M421.5 400.8l1.0 -2.8M441.3 407.7L431.4 399.0l2.1 -5.4M433.2 400.6l1.1 -2.8M452.8 407.7L443.2 398.7l2.3 -5.3M444.9 400.3l1.2 -2.8M464.3 407.7L455.3 398.0l2.6 -5.2M457.0 399.8l1.4 -2.7M475.8 407.7L467.6 397.3l3.0 -4.9M469.1 399.2l1.6 -2.6M487.3 407.7L479.9 396.7l3.4 -4.7M481.3 398.7l1.8 -2.4M498.8 407.7L492.4 396.2l3.8 -4.4M493.5 398.3l3.8 -4.4M510.3 407.7L504.9 395.7l4.2 -4.1M505.9 397.9l4.2 -4.1M521.8 407.7L517.4 395.2l4.5 -3.7M518.2 397.5l4.5 -3.7M533.3 407.7L530.0 394.9l4.8 -3.3M530.6 397.2l4.8 -3.3M176.8 394.4L164.6 389.4l0.2 -5.8M188.3 394.4L176.1 389.3l0.3 -5.8M199.8 394.4L187.7 389.2l0.3 -5.8M211.3 394.4L199.2 389.1l0.4 -5.8M222.8 394.4L210.8 388.9l0.5 -5.8M234.3 394.4L222.4 388.7l0.6 -5.8M245.8 394.4L234.0 388.4l0.7 -5.8M257.3 394.4L245.6 388.2l0.8 -5.7M268.8 394.4L257.2 388.0l0.9 -5.7M259.3 389.2l0.5 -3.0M280.3 394.4L268.8 387.9l1.0 -5.7M270.9 389.0l0.5 -3.0M291.8 394.4L280.4 387.7l1.1 -5.7M282.5 388.9l0.6 -2.9M303.3 394.4L292.0 387.5l1.1 -5.7M294.1 388.8l0.6 -2.9M314.8 394.4L303.6 387.4l1.2 -5.7M305.6 388.7l0.6 -2.9M326.3 394.4L315.2 387.3l1.2 -5.7M317.2 388.6l0.6 -2.9M337.8 394.4L326.7 387.2l1.3 -5.7M328.7 388.5l0.7 -2.9M349.3 394.4L338.2 387.2l1.3 -5.6M340.2 388.5l0.7 -2.9M360.8 394.4L349.8 387.2l1.3 -5.6M351.8 388.5l0.7 -2.9M372.3 394.4L361.3 387.1l1.3 -5.6M363.3 388.5l0.7 -2.9M383.8 394.4L372.8 387.1l1.4 -5.6M374.8 388.4l0.7 -2.9M395.3 394.4L384.3 387.1l1.4 -5.6M386.3 388.4l0.7 -2.9M406.8 394.4L395.9 387.0l1.4 -5.6M397.8 388.4l0.7 -2.9M418.3 394.4L407.4 386.9l1.5 -5.6M409.4 388.3l0.8 -2.9M429.8 394.4L419.2 386.6l1.6 -5.6M421.1 388.0l0.8 -2.9M441.3 394.4L430.9 386.3l1.8 -5.5M432.8 387.8l0.9 -2.9M452.8 394.4L442.6 386.0l1.9 -5.5M444.5 387.5l1.0 -2.8M464.3 394.4L454.8 385.3l2.3 -5.3M456.5 386.9l1.2 -2.7M475.8 394.4L467.1 384.5l2.8 -5.1M468.7 386.3l1.4 -2.6M487.3 394.4L479.5 383.8l3.2 -4.8M480.9 385.7l1.7 -2.5M498.8 394.4L492.0 383.1l3.6 -4.5M493.2 385.2l1.9 -2.3M510.3 394.4L504.6 382.5l4.1 -4.1M521.8 394.4L517.3 382.0l4.5 -3.7M533.3 394.4L530.1 381.6l4.8 -3.2M176.8 381.1L164.6 376.1l0.2 -5.8M188.3 381.1L176.1 376.0l0.3 -5.8M199.8 381.1L187.6 376.0l0.3 -5.8M211.3 381.1L199.2 375.9l0.3 -5.8M222.8 381.1L210.8 375.7l0.4 -5.8M234.3 381.1L222.4 375.5l0.5 -5.8M245.8 381.1L234.0 375.3l0.6 -5.8M257.3 381.1L245.6 375.1l0.7 -5.8M268.8 381.1L257.2 374.9l0.8 -5.7M259.3 376.0l0.4 -3.0M280.3 381.1L268.8 374.6l0.9 -5.7M270.9 375.8l0.5 -3.0M291.8 381.1L280.4 374.5l1.0 -5.7M282.5 375.7l0.5 -3.0M303.3 381.1L292.0 374.3l1.1 -5.7M294.0 375.5l0.6 -2.9M314.8 381.1L303.5 374.2l1.2 -5.7M305.6 375.5l0.6 -2.9M326.3 381.1L315.1 374.1l1.2 -5.7M317.2 375.4l0.6 -2.9M337.8 381.1L326.7 374.0l1.3 -5.7M328.7 375.3l0.6 -2.9M349.3 381.1L338.2 374.0l1.2 -5.7M340.2 375.3l0.6 -2.9M360.8 381.1L349.6 374.1l1.2 -5.7M351.7 375.3l0.6 -2.9M372.3 381.1L361.1 374.1l1.2 -5.7M363.2 375.4l0.6 -2.9M383.8 381.1L372.6 374.1l1.2 -5.7M374.7 375.4l0.6 -2.9M395.3 381.1L384.1 374.1l1.2 -5.7M386.2 375.4l0.6 -2.9M406.8 381.1L395.6 374.1l1.2 -5.7M397.7 375.4l0.6 -2.9M418.3 381.1L407.2 374.0l1.3 -5.7M409.2 375.3l0.7 -2.9M429.8 381.1L418.8 373.7l1.4 -5.6M420.8 375.1l0.7 -2.9M441.3 381.1L430.5 373.5l1.5 -5.6M432.5 374.9l0.8 -2.9M452.8 381.1L442.2 373.2l1.6 -5.6M444.1 374.7l0.9 -2.9M464.3 381.1L454.3 372.5l2.1 -5.4M456.1 374.0l1.1 -2.8M475.8 381.1L466.6 371.6l2.5 -5.2M468.3 373.4l1.3 -2.7M487.3 381.1L479.0 370.9l3.0 -5.0M498.8 381.1L491.5 370.1l3.4 -4.7M510.3 381.1L504.3 369.4l3.9 -4.3M521.8 381.1L517.1 368.8l4.4 -3.8M533.3 381.1L530.0 368.3l4.8 -3.3M176.8 367.8L164.6 362.8l0.2 -5.8M188.3 367.8L176.1 362.8l0.2 -5.8M199.8 367.8L187.6 362.7l0.3 -5.8M211.3 367.8L199.2 362.6l0.3 -5.8M222.8 367.8L210.7 362.5l0.4 -5.8M234.3 367.8L222.3 362.3l0.5 -5.8M245.8 367.8L233.9 362.1l0.6 -5.8M257.3 367.8L245.5 361.9l0.7 -5.8M268.8 367.8L257.1 361.7l0.8 -5.7M280.3 367.8L268.7 361.4l0.9 -5.7M270.8 362.6l0.5 -3.0M291.8 367.8L280.4 361.2l1.0 -5.7M282.4 362.4l0.5 -3.0M303.3 367.8L291.9 361.1l1.1 -5.7M294.0 362.3l0.6 -2.9M314.8 367.8L303.5 361.0l1.1 -5.7M305.6 362.2l0.6 -2.9M326.3 367.8L315.1 360.9l1.2 -5.7M317.1 362.1l0.6 -2.9M337.8 367.8L326.6 360.8l1.2 -5.7M328.7 362.1l0.6 -2.9M349.3 367.8L338.1 360.9l1.2 -5.7M340.1 362.1l0.6 -2.9M360.8 367.8L349.5 360.9l1.1 -5.7M351.6 362.2l0.6 -2.9M372.3 367.8L361.0 361.0l1.1 -5.7M363.0 362.3l0.6 -2.9M383.8 367.8L372.4 361.1l1.1 -5.7M374.5 362.3l0.6 -2.9M395.3 367.8L383.9 361.1l1.1 -5.7M386.0 362.3l0.5 -3.0M406.8 367.8L395.4 361.1l1.0 -5.7M397.5 362.4l0.5 -3.0M418.3 367.8L406.9 361.1l1.1 -5.7M409.0 362.3l0.5 -3.0M429.8 367.8L418.5 360.9l1.2 -5.7M420.6 362.2l0.6 -2.9M441.3 367.8L430.2 360.7l1.3 -5.7M432.2 362.0l0.7 -2.9M452.8 367.8L441.8 360.5l1.4 -5.6M443.8 361.8l0.7 -2.9M464.3 367.8L453.9 359.7l1.8 -5.5M455.8 361.2l0.9 -2.9M475.8 367.8L466.1 358.8l2.3 -5.3M487.3 367.8L478.5 358.0l2.7 -5.1M498.8 367.8L491.0 357.1l3.2 -4.8M510.3 367.8L503.9 356.3l3.8 -4.4M521.8 367.8L516.9 355.6l4.3 -3.9M176.8 354.5L164.6 349.5l0.2 -5.8M188.3 354.5L176.1 349.5l0.2 -5.8M199.8 354.5L187.6 349.4l0.3 -5.8M211.3 354.5L199.1 349.4l0.3 -5.8M222.8 354.5L210.7 349.3l0.3 -5.8M234.3 354.5L222.3 349.1l0.4 -5.8M245.8 354.5L233.8 348.9l0.5 -5.8M257.3 354.5L245.4 348.7l0.6 -5.8M268.8 354.5L257.1 348.5l0.7 -5.8M280.3 354.5L268.7 348.2l0.9 -5.7M270.8 349.4l0.4 -3.0M291.8 354.5L280.3 348.0l1.0 -5.7M282.4 349.2l0.5 -3.0M303.3 354.5L291.9 347.8l1.0 -5.7M294.0 349.0l0.5 -3.0M314.8 354.5L303.5 347.7l1.1 -5.7M305.5 348.9l0.6 -2.9M326.3 354.5L315.1 347.6l1.2 -5.7M317.1 348.8l0.6 -2.9M337.8 354.5L326.6 347.5l1.2 -5.7M328.6 348.8l0.6 -2.9M349.3 354.5L338.0 347.7l1.1 -5.7M340.1 348.9l0.6 -2.9M360.8 354.5L349.4 347.8l1.1 -5.7M351.5 349.0l0.5 -3.0M372.3 354.5L360.8 347.9l1.0 -5.7M362.9 349.1l0.5 -3.0M383.8 354.5L372.3 348.0l0.9 -5.7M374.4 349.2l0.5 -3.0M395.3 354.5L383.7 348.1l0.9 -5.7M385.8 349.3l0.5 -3.0M406.8 354.5L395.2 348.2l0.9 -5.7M397.3 349.3l0.4 -3.0M418.3 354.5L406.7 348.2l0.9 -5.7M408.8 349.4l0.4 -3.0M429.8 354.5L418.3 348.1l0.9 -5.7M420.4 349.2l0.5 -3.0M441.3 354.5L429.9 347.9l1.0 -5.7M431.9 349.1l0.5 -3.0M452.8 354.5L441.4 347.8l1.1 -5.7M443.5 349.0l0.6 -2.9M464.3 354.5L453.5 347.0l1.5 -5.6M475.8 354.5L465.7 346.0l2.0 -5.5M487.3 354.5L478.0 345.1l2.5 -5.3M498.8 354.5L490.5 344.2M491.9 345.9l1.5 -2.6M510.3 354.5L503.5 343.2M504.6 345.1l1.9 -2.3M521.8 354.5L516.5 342.4M517.4 344.4l2.2 -2.1M176.8 341.2L164.6 336.3l0.2 -5.8M188.3 341.2L176.1 336.2l0.2 -5.8M199.8 341.2L187.6 336.2l0.2 -5.8M211.3 341.2L199.1 336.2l0.2 -5.8M222.8 341.2L210.6 336.1l0.3 -5.8M234.3 341.2L222.2 335.9l0.4 -5.8M245.8 341.2L233.8 335.7l0.5 -5.8M257.3 341.2L245.4 335.5l0.6 -5.8M268.8 341.2L257.0 335.2l0.7 -5.8M280.3 341.2L268.7 334.9l0.8 -5.7M291.8 341.2L280.3 334.7l1.0 -5.7M282.4 335.9l0.5 -3.0M303.3 341.2L291.9 334.5l1.0 -5.7M294.0 335.7l0.5 -3.0M314.8 341.2L303.5 334.4l1.1 -5.7M305.5 335.6l0.6 -2.9M326.3 341.2L315.1 334.3l1.2 -5.7M317.1 335.5l0.6 -2.9M337.8 341.2L326.6 334.2l1.2 -5.7M328.6 335.5l0.6 -2.9M349.3 341.2L338.0 334.4l1.1 -5.7M340.0 335.7l0.6 -2.9M360.8 341.2L349.4 334.6l1.0 -5.7M351.4 335.8l0.5 -3.0M372.3 341.2L360.8 334.8l0.9 -5.7M362.9 336.0l0.5 -3.0M383.8 341.2L372.2 335.0l0.8 -5.7M374.3 336.1l0.4 -3.0M395.3 341.2L383.6 335.1l0.8 -5.7M385.7 336.2l0.4 -3.0M406.8 341.2L395.0 335.2l0.7 -5.8M397.2 336.3l0.4 -3.0M418.3 341.2L406.5 335.3l0.7 -5.8M408.6 336.4l0.3 -3.0M429.8 341.2L418.0 335.2l0.7 -5.8M420.2 336.3l0.4 -3.0M452.8 341.2L441.1 335.1l0.8 -5.7M443.2 336.2l0.4 -3.0M464.3 341.2L453.1 334.3l1.2 -5.7M475.8 341.2L465.2 333.3l1.7 -5.6M487.3 341.2L477.4 332.4M479.1 333.9l1.1 -2.8M498.8 341.2L489.9 331.4M491.4 333.1l1.4 -2.7M510.3 341.2L502.9 330.3M504.1 332.1l1.8 -2.4M521.8 341.2L516.0 329.3M517.0 331.3l2.1 -2.2M176.8 327.9L164.5 323.1l0.1 -5.8M188.3 327.9L176.0 323.1l0.1 -5.8M199.8 327.9L187.5 323.1l0.2 -5.8M211.3 327.9L199.0 323.0l0.2 -5.8M222.8 327.9L210.6 322.9l0.2 -5.8M234.3 327.9L222.2 322.7l0.3 -5.8M245.8 327.9L233.7 322.5l0.4 -5.8M257.3 327.9L245.3 322.3l0.5 -5.8M268.8 327.9L257.0 322.0l0.6 -5.8M280.3 327.9L268.6 321.7l0.8 -5.7M291.8 327.9L280.3 321.4l0.9 -5.7M282.4 322.6l0.5 -3.0M303.3 327.9L291.9 321.3l1.0 -5.7M294.0 322.5l0.5 -3.0M314.8 327.9L303.5 321.1l1.1 -5.7M305.5 322.4l0.6 -2.9M326.3 327.9L315.0 321.0l1.1 -5.7M317.1 322.3l0.6 -2.9M337.8 327.9L326.5 321.0l1.2 -5.7M328.6 322.3l0.6 -2.9M349.3 327.9L337.9 321.2l1.1 -5.7M340.0 322.4l0.5 -3.0M360.8 327.9L349.3 321.4l0.9 -5.7M351.4 322.6l0.5 -3.0M372.3 327.9L360.7 321.7l0.8 -5.7M362.8 322.8l0.4 -3.0M383.8 327.9L372.1 321.8l0.7 -5.8M374.2 322.9l0.4 -3.0M395.3 327.9L383.5 322.0l0.7 -5.8M385.6 323.1l0.3 -3.0M406.8 327.9L394.9 322.2l0.6 -5.8M397.1 323.2l0.3 -3.0M418.3 327.9L406.3 322.3l0.5 -5.8M408.5 323.3l0.3 -3.0M441.3 327.9L429.3 322.3l0.5 -5.8M431.5 323.4l0.3 -3.0M452.8 327.9L440.8 322.3l0.5 -5.8M464.3 327.9L452.7 321.5M454.7 322.6l0.5 -3.0M475.8 327.9L464.8 320.6M466.6 321.8l0.7 -2.9M487.3 327.9L477.0 319.7M478.7 321.0l1.0 -2.8M498.8 327.9L489.4 318.6M491.0 320.2l1.3 -2.7M510.3 327.9L502.4 317.3M503.7 319.1l1.6 -2.5M521.8 327.9L515.5 316.3M516.6 318.2l2.0 -2.2M176.8 314.6L164.2 310.6l-0.3 -5.8M188.3 314.6L175.8 310.5l-0.2 -5.8M199.8 314.6L187.3 310.4l-0.1 -5.8M211.3 314.6L198.8 310.2l-0.1 -5.8M222.8 314.6L210.4 310.1l0.0 -5.8M234.3 314.6L222.0 309.9l0.1 -5.8M245.8 314.6L233.5 309.7l0.2 -5.8M257.3 314.6L245.1 309.5l0.3 -5.8M268.8 314.6L256.8 309.1l0.5 -5.8M280.3 314.6L268.5 308.8l0.6 -5.8M291.8 314.6L280.1 308.4l0.8 -5.7M282.3 309.5l0.4 -3.0M303.3 314.6L291.7 308.2l0.9 -5.7M293.8 309.4l0.5 -3.0M314.8 314.6L303.3 308.1l1.0 -5.7M305.4 309.3l0.5 -3.0M326.3 314.6L314.9 308.0l1.0 -5.7M316.9 309.2l0.5 -3.0M337.8 314.6L326.4 307.9l1.0 -5.7M328.5 309.2l0.5 -3.0M349.3 314.6L337.8 308.1l1.0 -5.7M339.9 309.3l0.5 -3.0M360.8 314.6L349.2 308.2l0.9 -5.7M351.3 309.4l0.5 -3.0M372.3 314.6L360.7 308.4l0.8 -5.7M362.8 309.5l0.4 -3.0M383.8 314.6L372.1 308.5l0.7 -5.8M374.2 309.6l0.4 -3.0M395.3 314.6L383.5 308.7l0.7 -5.8M385.6 309.8l0.3 -3.0M406.8 314.6L394.9 308.9l0.6 -5.8M397.1 309.9l0.3 -3.0M418.3 314.6L406.3 309.0l0.5 -5.8M408.5 310.1l0.3 -3.0M429.8 314.6L417.8 309.1l0.5 -5.8M420.0 310.1l0.2 -3.0M441.3 314.6L429.3 309.2l0.4 -5.8M431.5 310.2l0.2 -3.0M452.8 314.6L440.7 309.2l0.4 -5.8M464.3 314.6L452.6 308.4M454.6 309.4l0.4 -3.0M475.8 314.6L464.7 307.4M466.6 308.6l0.7 -2.9M487.3 314.6L476.9 306.5M478.6 307.9l0.9 -2.9M498.8 314.6L489.2 305.5M490.8 307.0l1.2 -2.7M510.3 314.6L502.1 304.3M503.4 306.0l1.6 -2.6M176.8 301.3L164.0 298.2l-0.7 -5.8M188.3 301.3L175.5 298.0l-0.5 -5.8M199.8 301.3L187.1 297.7l-0.4 -5.8M211.3 301.3L198.7 297.5l-0.3 -5.8M222.8 301.3L210.2 297.3l-0.2 -5.8M234.3 301.3L221.8 297.1l-0.1 -5.8M245.8 301.3L233.4 296.9l-0.0 -5.8M257.3 301.3L244.9 296.7l0.1 -5.8M268.8 301.3L256.6 296.2l0.3 -5.8M280.3 301.3L268.3 295.8l0.5 -5.8M291.8 301.3L280.0 295.4l0.7 -5.8M282.1 296.5l0.3 -3.0M303.3 301.3L291.6 295.2l0.8 -5.7M293.7 296.3l0.4 -3.0M314.8 301.3L303.2 295.1l0.8 -5.7M305.3 296.2l0.4 -3.0M326.3 301.3L314.7 295.0l0.9 -5.7M316.8 296.1l0.5 -3.0M337.8 301.3L326.3 294.9l0.9 -5.7M328.4 296.1l0.5 -3.0M349.3 301.3L337.7 295.0l0.9 -5.7M339.8 296.1l0.5 -3.0M360.8 301.3L349.2 295.0l0.8 -5.7M351.3 296.2l0.4 -3.0M372.3 301.3L360.7 295.1l0.8 -5.7M362.8 296.2l0.4 -3.0M383.8 301.3L372.1 295.2l0.7 -5.8M374.2 296.3l0.4 -3.0M395.3 301.3L383.5 295.4l0.7 -5.8M385.6 296.5l0.3 -3.0M406.8 301.3L394.9 295.6l0.6 -5.8M397.1 296.6l0.3 -3.0M418.3 301.3L406.3 295.8l0.5 -5.8M408.5 296.8l0.3 -3.0M429.8 301.3L417.8 295.9l0.4 -5.8M420.0 296.9l0.2 -3.0M441.3 301.3L429.2 296.0l0.4 -5.8M431.4 297.0l0.2 -3.0M452.8 301.3L440.7 296.1l0.3 -5.8M464.3 301.3L452.5 295.3M454.5 296.3l0.4 -3.0M475.8 301.3L464.6 294.3M466.5 295.5l0.6 -2.9M487.3 301.3L476.7 293.4M478.5 294.7l0.9 -2.9M498.8 301.3L489.1 292.4M490.7 293.9l1.1 -2.8M176.8 288.0L163.7 286.4l-1.3 -5.7M188.3 288.0L175.3 285.8l-1.0 -5.7M199.8 288.0L186.9 285.2l-0.8 -5.7M211.3 288.0L198.6 284.5l-0.5 -5.8M222.8 288.0L210.1 284.3l-0.4 -5.8M234.3 288.0L221.7 284.1l-0.3 -5.8M245.8 288.0L233.2 284.0l-0.2 -5.8M257.3 288.0L244.8 283.8l-0.1 -5.8M268.8 288.0L256.5 283.3l0.1 -5.8M280.3 288.0L268.2 282.8l0.3 -5.8M291.8 288.0L279.9 282.3l0.6 -5.8M282.0 283.4l0.3 -3.0M303.3 288.0L291.5 282.1l0.7 -5.8M293.6 283.2l0.3 -3.0M314.8 288.0L303.0 282.0l0.7 -5.8M305.2 283.1l0.4 -3.0M326.3 288.0L314.6 281.9l0.8 -5.7M316.7 283.0l0.4 -3.0M337.8 288.0L326.1 281.8l0.8 -5.7M328.3 282.9l0.4 -3.0M349.3 288.0L337.6 281.9l0.8 -5.7M339.7 283.0l0.4 -3.0M360.8 288.0L349.1 281.9l0.8 -5.8M351.2 283.0l0.4 -3.0M372.3 288.0L360.6 282.0l0.7 -5.8M362.7 283.1l0.4 -3.0M383.8 288.0L372.0 282.1l0.7 -5.8M374.1 283.2l0.3 -3.0M395.3 288.0L383.4 282.2l0.6 -5.8M385.6 283.3l0.3 -3.0M406.8 288.0L394.9 282.3l0.5 -5.8M397.0 283.4l0.3 -3.0M418.3 288.0L406.3 282.5l0.5 -5.8M408.5 283.5l0.2 -3.0M441.3 288.0L429.2 282.8l0.3 -5.8M452.8 288.0L440.6 283.0l0.2 -5.8M464.3 288.0L452.3 282.6M454.3 283.5l0.2 -3.0M475.8 288.0L464.0 282.1M466.0 283.1l0.3 -3.0M487.3 288.0L475.8 281.6M477.7 282.7l0.5 -3.0M176.8 274.7L163.6 273.9l-1.7 -5.6M188.3 274.7L175.2 273.4l-1.4 -5.6M199.8 274.7L186.7 272.9l-1.2 -5.7M211.3 274.7L198.3 272.4l-1.0 -5.7M222.8 274.7L209.9 271.9l-0.8 -5.7M234.3 274.7L221.5 271.5l-0.6 -5.8M245.8 274.7L233.1 271.2l-0.4 -5.8M257.3 274.7L244.7 270.7l-0.3 -5.8M268.8 274.7L256.4 270.2l-0.0 -5.8M280.3 274.7L268.1 269.8l0.2 -5.8M291.8 274.7L279.8 269.3l0.4 -5.8M282.0 270.3l0.2 -3.0M303.3 274.7L291.4 269.1l0.5 -5.8M293.5 270.1l0.3 -3.0M314.8 274.7L302.9 269.0l0.5 -5.8M305.0 270.1l0.3 -3.0M326.3 274.7L314.4 269.0l0.6 -5.8M316.6 270.0l0.3 -3.0M337.8 274.7L325.9 268.9l0.6 -5.8M328.1 270.0l0.3 -3.0M349.3 274.7L337.4 268.9l0.6 -5.8M339.6 270.0l0.3 -3.0M360.8 274.7L348.9 268.9l0.6 -5.8M351.1 270.0l0.3 -3.0M372.3 274.7L360.4 268.9l0.6 -5.8M362.6 270.0l0.3 -3.0M383.8 274.7L371.9 269.0l0.6 -5.8M374.1 270.0l0.3 -3.0M395.3 274.7L383.4 269.0l0.6 -5.8M385.5 270.1l0.3 -3.0M406.8 274.7L394.9 269.1l0.5 -5.8M397.0 270.1l0.3 -3.0M418.3 274.7L406.3 269.2l0.5 -5.8M429.8 274.7L417.7 269.4l0.4 -5.8M441.3 274.7L429.2 269.5l0.3 -5.8M452.8 274.7L440.6 269.7l0.2 -5.8M464.3 274.7L452.1 269.6l0.3 -5.8M475.8 274.7L463.7 269.3l0.4 -5.8M176.8 261.4L163.6 261.3l-2.0 -5.5M188.3 261.4L175.1 260.9l-1.8 -5.5M199.8 261.4L186.6 260.4l-1.6 -5.6M211.3 261.4L198.2 260.0l-1.4 -5.6M222.8 261.4L209.8 259.4l-1.1 -5.7M234.3 261.4L221.4 258.8l-0.9 -5.7M245.8 261.4L233.0 258.2l-0.6 -5.8M257.3 261.4L244.6 257.7l-0.4 -5.8M268.8 261.4L256.3 257.2l-0.2 -5.8M280.3 261.4L267.9 256.8l0.0 -5.8M291.8 261.4L279.6 256.4l0.2 -5.8M281.8 257.3l0.1 -3.0M303.3 261.4L291.1 256.3l0.3 -5.8M293.3 257.2l0.1 -3.0M314.8 261.4L302.6 256.4l0.2 -5.8M304.8 257.3l0.1 -3.0M326.3 261.4L314.1 256.4l0.2 -5.8M316.3 257.3l0.1 -3.0M337.8 261.4L325.5 256.5l0.2 -5.8M327.8 257.4l0.1 -3.0M349.3 261.4L337.1 256.4l0.2 -5.8M339.3 257.3l0.1 -3.0M360.8 261.4L348.6 256.3l0.3 -5.8M350.8 257.3l0.1 -3.0M372.3 261.4L360.1 256.3l0.3 -5.8M362.3 257.2l0.1 -3.0M383.8 261.4L371.7 256.2l0.3 -5.8M395.3 261.4L383.2 256.1l0.3 -5.8M406.8 261.4L394.7 256.1l0.4 -5.8M418.3 261.4L406.2 256.1l0.4 -5.8M429.8 261.4L417.7 256.1l0.4 -5.8M441.3 261.4L429.2 256.2l0.3 -5.8M176.8 248.1L163.6 248.0l-2.0 -5.5M188.3 248.1L175.1 247.7l-1.8 -5.5M199.8 248.1L186.6 247.4l-1.7 -5.5M211.3 248.1L198.1 247.1l-1.5 -5.6M222.8 248.1L209.7 246.5l-1.3 -5.7M234.3 248.1L221.3 245.8l-1.0 -5.7M245.8 248.1L232.9 245.2l-0.7 -5.8M257.3 248.1L244.6 244.6l-0.5 -5.8M268.8 248.1L256.2 244.2l-0.3 -5.8M280.3 248.1L267.8 243.8l-0.1 -5.8M291.8 248.1L279.4 243.5l0.1 -5.8M303.3 248.1L290.9 243.5l0.0 -5.8M314.8 248.1L302.3 243.8l-0.1 -5.8M326.3 248.1L313.7 244.0l-0.2 -5.8M337.8 248.1L325.2 244.2l-0.3 -5.8M349.3 248.1L336.8 243.9l-0.2 -5.8M360.8 248.1L348.4 243.7l-0.0 -5.8M372.3 248.1L360.0 243.4l0.1 -5.8M383.8 248.1L371.5 243.3l0.1 -5.8M395.3 248.1L383.1 243.1l0.2 -5.8M406.8 248.1L394.6 243.0l0.3 -5.8M418.3 248.1L406.1 242.9l0.3 -5.8M429.8 248.1L417.6 242.9l0.3 -5.8M176.8 234.8L163.6 235.0l-2.1 -5.4M188.3 234.8L175.1 234.8l-2.0 -5.4M199.8 234.8L186.6 234.6l-1.9 -5.5M211.3 234.8L198.1 234.4l-1.8 -5.5M222.8 234.8L209.6 233.8l-1.6 -5.6M234.3 234.8L221.2 233.0l-1.2 -5.7M245.8 234.8L232.9 232.2l-0.9 -5.7M257.3 234.8L244.5 231.5l-0.6 -5.8M268.8 234.8L256.1 231.2l-0.4 -5.8M280.3 234.8L267.7 230.8l-0.2 -5.8M303.3 234.8L290.8 230.5l-0.1 -5.8M314.8 234.8L302.2 230.7l-0.2 -5.8M326.3 234.8L313.7 231.0l-0.3 -5.8M349.3 234.8L336.7 230.8l-0.3 -5.8M360.8 234.8L348.3 230.6l-0.1 -5.8M372.3 234.8L359.9 230.3l-0.0 -5.8M383.8 234.8L371.4 230.1l0.1 -5.8M176.8 221.5L163.6 221.7l-2.1 -5.4M188.3 221.5L175.1 221.6l-2.0 -5.4M199.8 221.5L186.6 221.6l-2.0 -5.4M211.3 221.5L198.1 221.5l-2.0 -5.4M222.8 221.5L209.6 221.0l-1.8 -5.5M234.3 221.5L221.1 220.4l-1.5 -5.6M245.8 221.5L232.7 219.7l-1.2 -5.7M257.3 221.5L244.3 219.0l-0.9 -5.7M268.8 221.5L256.0 218.4l-0.7 -5.8M280.3 221.5L267.6 217.8l-0.4 -5.8M291.8 221.5L279.3 217.2l-0.1 -5.8M303.3 221.5L290.8 217.2l-0.1 -5.8M314.8 221.5L302.2 217.5l-0.2 -5.8M326.3 221.5L313.6 217.8l-0.4 -5.8M337.8 221.5L325.1 218.0l-0.5 -5.8M349.3 221.5L336.7 217.7l-0.3 -5.8M360.8 221.5L348.3 217.4l-0.2 -5.8M372.3 221.5L359.9 217.1l-0.0 -5.8M176.8 208.2L163.6 208.7l-2.2 -5.4M188.3 208.2L175.1 208.7l-2.2 -5.4M199.8 208.2L186.6 208.7l-2.2 -5.4M211.3 208.2L198.1 208.7l-2.2 -5.4M222.8 208.2L209.6 208.3l-2.0 -5.4M234.3 208.2L221.1 207.8l-1.8 -5.5M245.8 208.2L232.6 207.2l-1.6 -5.6M257.3 208.2L244.2 206.6l-1.3 -5.7M268.8 208.2L255.9 205.6l-0.9 -5.7M280.3 208.2L267.6 204.5l-0.4 -5.8M291.8 208.2L279.5 203.5l0.1 -5.8M326.3 208.2L313.9 203.6l0.0 -5.8M176.8 194.9L163.6 194.2M165.8 194.3l-0.9 -2.9M188.3 194.9L175.1 194.1M177.3 194.3l-0.9 -2.9M199.8 194.9L186.6 194.1M188.8 194.2l-0.8 -2.9M211.3 194.9L198.1 194.0M200.3 194.2l-0.8 -2.9M222.8 194.9L209.7 193.4M211.9 193.6l-0.7 -2.9M234.3 194.9L221.3 192.4M223.5 192.9l-0.5 -3.0M245.8 194.9L233.0 191.5M235.2 192.1l-0.3 -3.0M257.3 194.9L244.8 190.7M246.9 191.4l-0.1 -3.0M268.8 194.9L256.5 190.1M258.6 190.9l0.1 -3.0M280.3 194.9L268.3 189.5M270.3 190.4l0.2 -3.0M176.8 181.6L163.6 180.9M165.8 181.0l-0.9 -2.9M188.3 181.6L175.1 181.0M177.3 181.1l-0.9 -2.9M199.8 181.6L186.6 181.0M188.8 181.1l-0.9 -2.9M211.3 181.6L198.1 181.1M200.3 181.2l-0.9 -2.9M222.8 181.6L209.6 181.0M211.8 181.1l-0.9 -2.9M234.3 181.6L221.1 180.7M223.3 180.9l-0.8 -2.9M245.8 181.6L232.6 180.5M234.8 180.7l-0.8 -2.9M257.3 181.6L244.2 180.0M246.4 180.3l-0.7 -2.9M268.8 181.6L256.0 178.4M258.1 178.9l-0.3 -3.0M176.8 168.3L163.8 166.0M166.0 166.4l-0.5 -3.0M188.3 168.3L175.3 166.0M177.5 166.4l-0.5 -3.0M199.8 168.3L186.8 166.0M189.0 166.4l-0.5 -3.0M211.3 168.3L198.2 166.4M200.4 166.7l-0.6 -2.9M222.8 168.3L209.7 166.7M211.9 167.0l-0.7 -2.9M234.3 168.3L221.1 167.5M223.3 167.7l-0.9 -2.9M245.8 168.3L232.6 168.8M234.8 168.7l-1.1 -2.8M257.3 168.3L245.9 174.9M247.8 173.8l-2.3 -1.9M176.8 155.0L163.8 152.7M166.0 153.1l-0.5 -3.0M188.3 155.0L175.9 150.5M178.0 151.2l-0.0 -3.0M199.8 155.0L187.1 151.4M189.2 152.0l-0.2 -3.0M211.3 155.0L198.4 152.3M200.5 152.7l-0.4 -3.0M222.8 155.0L209.7 153.8M211.8 154.0l-0.8 -2.9M234.3 155.0L222.3 160.6M224.3 159.6l-2.1 -2.1M245.8 155.0L244.0 168.1M244.3 165.9l-2.9 0.6M257.3 155.0L264.5 166.1M263.3 164.2l-1.8 2.4M176.8 141.7L164.0 138.3M166.2 138.9l-0.3 -3.0M188.3 141.7L175.6 138.1M177.7 138.7l-0.2 -3.0M199.8 141.7L186.9 139.0M189.0 139.4l-0.4 -3.0M211.3 141.7L198.2 140.5M200.3 140.7l-0.8 -2.9M222.8 141.7L210.8 147.3M212.8 146.3l-2.1 -2.1M234.3 141.7L232.5 154.8M232.8 152.6l-2.9 0.6M245.8 141.7L252.4 153.1M251.3 151.2l-1.9 2.3M257.3 141.7L267.0 150.7M265.3 149.2l-1.2 2.8M176.8 128.4L164.0 125.0M166.2 125.6l-0.3 -3.0M188.3 128.4L175.4 125.7M177.5 126.1l-0.4 -3.0M199.8 128.4L186.7 127.2M188.8 127.4l-0.8 -2.9M211.3 128.4L199.3 134.0M201.3 133.0l-2.1 -2.1M222.8 128.4L221.0 141.5M221.3 139.3l-2.9 0.6M234.3 128.4L240.9 139.8M239.8 137.9l-1.9 2.3M245.8 128.4L255.5 137.4M253.8 135.9l-1.2 2.8M176.8 115.1L164.8 109.5M166.8 110.5l0.3 -3.0M188.3 115.1L175.2 113.9M177.3 114.1l-0.8 -2.9M199.8 115.1L187.8 120.7M189.8 119.7l-2.1 -2.1M211.3 115.1L209.5 128.2M209.8 126.0l-2.9 0.6M222.8 115.1L229.4 126.5M228.3 124.6l-1.9 2.3M234.3 115.1L244.0 124.1M242.3 122.6l-1.2 2.8M176.8 101.8L165.4 95.2M167.3 96.3l0.5 -3.0M188.3 101.8L176.3 107.4M178.3 106.4l-2.1 -2.1M199.8 101.8L198.0 114.9M198.3 112.7l-2.9 0.6M211.3 101.8L217.9 113.2M216.8 111.3l-1.9 2.3M222.8 101.8L232.5 110.8M230.8 109.3l-1.2 2.8M234.3 101.8L244.0 110.8M242.3 109.3l-1.2 2.8M176.8 88.5L164.0 85.1M166.2 85.7l-0.3 -3.0M188.3 88.5L197.6 97.8M196.1 96.3l-1.3 2.7M199.8 88.5L209.1 97.8M207.6 96.3l-1.3 2.7M211.3 88.5L220.6 97.8M219.1 96.3l-1.3 2.7" fill="none" stroke="#081018" stroke-width="1.2" stroke-linejoin="miter"/>
<polyline points="271.7,141.7 282.5,145.0 282.0,147.5" fill="none" stroke="#000" stroke-width="1.7"/>
<polyline points="272.5,167.0 283.0,165.0 283.5,167.5" fill="none" stroke="#000" stroke-width="1.7"/>
<polyline points="253.5,118.5 256.5,121.5 255.0,123.5" fill="none" stroke="#000" stroke-width="1.7"/>
<polyline points="295.0,198.0 297.0,193.3" fill="none" stroke="#000" stroke-width="1.7"/>
<polyline points="306.3,198.0 308.0,193.3" fill="none" stroke="#000" stroke-width="1.7"/>
<polyline points="317.5,198.0 319.2,193.3" fill="none" stroke="#000" stroke-width="1.7"/>
<polyline points="328.3,200.0 330.8,198.7" fill="none" stroke="#000" stroke-width="1.7"/>
<polyline points="340.8,200.0 343.3,198.0" fill="none" stroke="#000" stroke-width="1.7"/>
<polyline points="385.0,229.2 385.8,225.0" fill="none" stroke="#000" stroke-width="1.7"/>
<polyline points="440.8,258.3 451.7,261.7" fill="none" stroke="#000" stroke-width="1.7"/>
<polyline points="511.7,300.0 520.0,294.2 521.7,295.8" fill="none" stroke="#000" stroke-width="1.7"/>
<polyline points="531.8,355.5 535.7,354.5" fill="none" stroke="#000" stroke-width="1.7"/>
<polyline points="544.3,392.0 545.3,381.4 551.0,379.5" fill="none" stroke="#000" stroke-width="1.7"/>
<polyline points="545.1,386.5 547.3,385.8" fill="none" stroke="#000" stroke-width="1.7"/>
<polyline points="556.8,409.3 556.8,394.9 563.5,393.0" fill="none" stroke="#000" stroke-width="1.7"/>
<polyline points="556.8,407.3 561.6,405.4" fill="none" stroke="#000" stroke-width="1.7"/>
<polyline points="567.3,431.3 567.3,421.7 573.1,419.8" fill="none" stroke="#000" stroke-width="1.7"/>
<polyline points="576.4,467.6 574.5,460.0 579.3,456.0" fill="none" stroke="#000" stroke-width="1.7"/>
<polyline points="586.0,475.3 589.8,469.5" fill="none" stroke="#000" stroke-width="1.7"/>
<polyline points="596.5,500.2 600.4,496.4" fill="none" stroke="#000" stroke-width="1.7"/>
<polyline points="607.0,516.5 612.8,511.7" fill="none" stroke="#000" stroke-width="1.7"/>
<polyline points="305.0,241.5 311.0,245.5 316.0,246.5" fill="none" stroke="#000" stroke-width="1.7"/>
<polyline points="433.5,289.5 436.0,295.0 441.5,298.0" fill="none" stroke="#000" stroke-width="1.7"/>
<polyline points="440.3,341.0 440.3,344.8" fill="none" stroke="#000" stroke-width="1.7"/>
<rect x="228.2" y="315.0" width="16.0" height="11.6" fill="#fff"/>
<text x="236.2" y="325.0" font-size="11.5" fill="#28a83c" text-anchor="middle">10</text>
<rect x="526.5" y="456.0" width="15.3" height="11.6" fill="#fff"/>
<text x="534.1" y="466.0" font-size="11" fill="#9aa" text-anchor="middle">11</text>
<rect x="511.0" y="472.4" width="15.5" height="11.5" fill="#fff"/>
<text x="518.8" y="482.3" font-size="11" fill="#9aa" text-anchor="middle">13</text>
<rect x="521.7" y="491.6" width="8.6" height="10.5" fill="#fff"/>
<text x="526.0" y="500.5" font-size="11" fill="#9aa" text-anchor="middle">5</text>
</g>
<rect x="167.5" y="83.9" width="457.7" height="443.6" fill="none" stroke="#000" stroke-width="2"/>
<path d="M167.5 527.5v3.5M205.6 527.5v3.5M243.8 527.5v3.5M281.9 527.5v3.5M320.1 527.5v3.5M358.2 527.5v3.5M396.4 527.5v3.5M434.5 527.5v3.5M472.6 527.5v3.5M510.8 527.5v3.5M548.9 527.5v3.5M587.1 527.5v3.5M625.2 527.5v3.5M167.5 83.9h-5.2M167.5 106.1h-5.2M167.5 128.3h-5.2M167.5 150.4h-5.2M167.5 172.6h-5.2M167.5 194.8h-5.2M167.5 217.0h-5.2M167.5 239.2h-5.2M167.5 261.3h-5.2M167.5 283.5h-5.2M167.5 305.7h-5.2M167.5 327.9h-5.2M167.5 350.1h-5.2M167.5 372.2h-5.2M167.5 394.4h-5.2M167.5 416.6h-5.2M167.5 438.8h-5.2M167.5 461.0h-5.2M167.5 483.1h-5.2M167.5 505.3h-5.2M167.5 527.5h-5.2" stroke="#000" stroke-width="1.6" fill="none"/>
<text x="155.7" y="540.4" font-size="10.2" font-weight="bold" fill="#000" textLength="23.6" lengthAdjust="spacingAndGlyphs">122W</text>
<text x="189.8" y="540.4" font-size="10.2" font-weight="bold" fill="#000" textLength="31.6" lengthAdjust="spacingAndGlyphs">121.5W</text>
<text x="232.0" y="540.4" font-size="10.2" font-weight="bold" fill="#000" textLength="23.6" lengthAdjust="spacingAndGlyphs">121W</text>
<text x="266.1" y="540.4" font-size="10.2" font-weight="bold" fill="#000" textLength="31.6" lengthAdjust="spacingAndGlyphs">120.5W</text>
<text x="308.3" y="540.4" font-size="10.2" font-weight="bold" fill="#000" textLength="23.6" lengthAdjust="spacingAndGlyphs">120W</text>
<text x="342.4" y="540.4" font-size="10.2" font-weight="bold" fill="#000" textLength="31.6" lengthAdjust="spacingAndGlyphs">119.5W</text>
<text x="384.6" y="540.4" font-size="10.2" font-weight="bold" fill="#000" textLength="23.6" lengthAdjust="spacingAndGlyphs">119W</text>
<text x="418.7" y="540.4" font-size="10.2" font-weight="bold" fill="#000" textLength="31.6" lengthAdjust="spacingAndGlyphs">118.5W</text>
<text x="460.8" y="540.4" font-size="10.2" font-weight="bold" fill="#000" textLength="23.6" lengthAdjust="spacingAndGlyphs">118W</text>
<text x="495.0" y="540.4" font-size="10.2" font-weight="bold" fill="#000" textLength="31.6" lengthAdjust="spacingAndGlyphs">117.5W</text>
<text x="537.1" y="540.4" font-size="10.2" font-weight="bold" fill="#000" textLength="23.6" lengthAdjust="spacingAndGlyphs">117W</text>
<text x="571.3" y="540.4" font-size="10.2" font-weight="bold" fill="#000" textLength="31.6" lengthAdjust="spacingAndGlyphs">116.5W</text>
<text x="613.4" y="540.4" font-size="10.2" font-weight="bold" fill="#000" textLength="23.6" lengthAdjust="spacingAndGlyphs">116W</text>
<text x="129.1" y="87.3" font-size="10.1" font-weight="bold" fill="#000" textLength="31.3" lengthAdjust="spacingAndGlyphs">35.75N</text>
<text x="134.6" y="109.5" font-size="10.1" font-weight="bold" fill="#000" textLength="25.8" lengthAdjust="spacingAndGlyphs">35.5N</text>
<text x="129.1" y="131.7" font-size="10.1" font-weight="bold" fill="#000" textLength="31.3" lengthAdjust="spacingAndGlyphs">35.25N</text>
<text x="143.4" y="153.8" font-size="10.1" font-weight="bold" fill="#000" textLength="17.0" lengthAdjust="spacingAndGlyphs">35N</text>
<text x="129.1" y="176.0" font-size="10.1" font-weight="bold" fill="#000" textLength="31.3" lengthAdjust="spacingAndGlyphs">34.75N</text>
<text x="134.6" y="198.2" font-size="10.1" font-weight="bold" fill="#000" textLength="25.8" lengthAdjust="spacingAndGlyphs">34.5N</text>
<text x="129.1" y="220.4" font-size="10.1" font-weight="bold" fill="#000" textLength="31.3" lengthAdjust="spacingAndGlyphs">34.25N</text>
<text x="143.4" y="242.6" font-size="10.1" font-weight="bold" fill="#000" textLength="17.0" lengthAdjust="spacingAndGlyphs">34N</text>
<text x="129.1" y="264.7" font-size="10.1" font-weight="bold" fill="#000" textLength="31.3" lengthAdjust="spacingAndGlyphs">33.75N</text>
<text x="134.6" y="286.9" font-size="10.1" font-weight="bold" fill="#000" textLength="25.8" lengthAdjust="spacingAndGlyphs">33.5N</text>
<text x="129.1" y="309.1" font-size="10.1" font-weight="bold" fill="#000" textLength="31.3" lengthAdjust="spacingAndGlyphs">33.25N</text>
<text x="143.4" y="331.3" font-size="10.1" font-weight="bold" fill="#000" textLength="17.0" lengthAdjust="spacingAndGlyphs">33N</text>
<text x="129.1" y="353.5" font-size="10.1" font-weight="bold" fill="#000" textLength="31.3" lengthAdjust="spacingAndGlyphs">32.75N</text>
<text x="134.6" y="375.6" font-size="10.1" font-weight="bold" fill="#000" textLength="25.8" lengthAdjust="spacingAndGlyphs">32.5N</text>
<text x="129.1" y="397.8" font-size="10.1" font-weight="bold" fill="#000" textLength="31.3" lengthAdjust="spacingAndGlyphs">32.25N</text>
<text x="143.4" y="420.0" font-size="10.1" font-weight="bold" fill="#000" textLength="17.0" lengthAdjust="spacingAndGlyphs">32N</text>
<text x="129.1" y="442.2" font-size="10.1" font-weight="bold" fill="#000" textLength="31.3" lengthAdjust="spacingAndGlyphs">31.75N</text>
<text x="134.6" y="464.4" font-size="10.1" font-weight="bold" fill="#000" textLength="25.8" lengthAdjust="spacingAndGlyphs">31.5N</text>
<text x="129.1" y="486.5" font-size="10.1" font-weight="bold" fill="#000" textLength="31.3" lengthAdjust="spacingAndGlyphs">31.25N</text>
<text x="143.4" y="508.7" font-size="10.1" font-weight="bold" fill="#000" textLength="17.0" lengthAdjust="spacingAndGlyphs">31N</text>
<text x="129.1" y="530.9" font-size="10.1" font-weight="bold" fill="#000" textLength="31.3" lengthAdjust="spacingAndGlyphs">30.75N</text>
<text x="175.0" y="55.2" font-size="13.9" font-weight="normal" fill="#000" textLength="85.0" lengthAdjust="spacingAndGlyphs" stroke="#000" stroke-width="0.7">CEN/SOCAL</text>
<text x="273.7" y="55.2" font-size="13.9" font-weight="normal" fill="#000" textLength="68.8" lengthAdjust="spacingAndGlyphs" stroke="#000" stroke-width="0.7">REGIONAL</text>
<text x="355.0" y="55.2" font-size="13.9" font-weight="normal" fill="#000" textLength="36.7" lengthAdjust="spacingAndGlyphs" stroke="#000" stroke-width="0.7">WW3:</text>
<text x="401.7" y="55.2" font-size="13.9" font-weight="normal" fill="#000" textLength="9.1" lengthAdjust="spacingAndGlyphs" stroke="#000" stroke-width="0.7">P</text>
<text x="435.8" y="55.2" font-size="13.9" font-weight="normal" fill="#000" textLength="20.0" lengthAdjust="spacingAndGlyphs" stroke="#000" stroke-width="0.7">(s)</text>
<text x="468.3" y="55.2" font-size="13.9" font-weight="normal" fill="#000" textLength="30.9" lengthAdjust="spacingAndGlyphs" stroke="#000" stroke-width="0.7">10m</text>
<text x="510.1" y="55.2" font-size="13.9" font-weight="normal" fill="#000" textLength="34.7" lengthAdjust="spacingAndGlyphs" stroke="#000" stroke-width="0.7">WIND</text>
<text x="556.6" y="55.2" font-size="13.9" font-weight="normal" fill="#000" textLength="33.3" lengthAdjust="spacingAndGlyphs" stroke="#000" stroke-width="0.7">(kts)</text>
<text x="411.9" y="56.7" font-size="5.4" font-weight="bold" fill="#000" textLength="13.9" lengthAdjust="spacingAndGlyphs" stroke="#000" stroke-width="0.4">DOM</text>
<text x="151.7" y="75.3" font-size="12.5" font-weight="bold" fill="#000" textLength="21.9" lengthAdjust="spacingAndGlyphs">Sun</text>
<text x="182.5" y="75.3" font-size="12.5" font-weight="bold" fill="#000" textLength="77.5" lengthAdjust="spacingAndGlyphs">11/07/2021</text>
<text x="270.2" y="75.3" font-size="12.5" font-weight="bold" fill="#000" textLength="13.0" lengthAdjust="spacingAndGlyphs">18</text>
<text x="291.7" y="75.3" font-size="12.5" font-weight="bold" fill="#000" textLength="22.3" lengthAdjust="spacingAndGlyphs">UTC</text>
<text x="322.4" y="75.3" font-size="12.5" font-weight="bold" fill="#000" textLength="21.7" lengthAdjust="spacingAndGlyphs">060</text>
<text x="352.8" y="75.3" font-size="12.5" font-weight="bold" fill="#000" textLength="15.6" lengthAdjust="spacingAndGlyphs">HR</text>
<text x="376.3" y="75.3" font-size="12.5" font-weight="bold" fill="#000" textLength="28.0" lengthAdjust="spacingAndGlyphs">FCST</text>
<text x="436.3" y="75.3" font-size="12.5" font-weight="bold" fill="#000" textLength="36.0" lengthAdjust="spacingAndGlyphs">VALID:</text>
<text x="479.9" y="75.3" font-size="12.5" font-weight="bold" fill="#000" textLength="23.3" lengthAdjust="spacingAndGlyphs">Wed</text>
<text x="512.7" y="75.3" font-size="12.5" font-weight="bold" fill="#000" textLength="75.7" lengthAdjust="spacingAndGlyphs">11/10/2021</text>
<text x="597.9" y="75.3" font-size="12.5" font-weight="bold" fill="#000" textLength="15.1" lengthAdjust="spacingAndGlyphs">06</text>
<text x="621.2" y="75.3" font-size="12.5" font-weight="bold" fill="#000" textLength="22.1" lengthAdjust="spacingAndGlyphs">UTC</text>
<text x="183.3" y="554.3" font-size="6.4" font-weight="bold" fill="#000" textLength="137.5" lengthAdjust="spacingAndGlyphs" stroke="#000" stroke-width="0.55">CREATED: 11/08/2021 02:11:08 UTC</text>
<text x="327.5" y="554.3" font-size="6.4" font-weight="bold" fill="#e83030" textLength="92.5" lengthAdjust="spacingAndGlyphs" stroke="#e83030" stroke-width="0.55">STATUS: HOT LINK NAM12</text>
<text x="183.3" y="562.4" font-size="6.4" font-weight="bold" fill="#000" textLength="210.9" lengthAdjust="spacingAndGlyphs" stroke="#000" stroke-width="0.55">BOUNDARY CONDITIONS: US NOAA/NCEP/NAM8 WW3 MPH</text>
<text x="183.3" y="570.6" font-size="6.4" font-weight="bold" fill="#000" textLength="225.9" lengthAdjust="spacingAndGlyphs" stroke="#000" stroke-width="0.55">IMPLEMENTATION: HYDROLOGIC RESEARCH CENTER, SAN DIEGO</text>
<text x="531.1" y="561.7" font-size="11.7" font-weight="normal" fill="#000" textLength="26.4" lengthAdjust="spacingAndGlyphs" stroke="#000" stroke-width="0.7">CDIP</text>
<path d="M565.8 557.2H575" stroke="#000" stroke-width="1.4"/>
<text x="583.9" y="561.7" font-size="11.7" font-weight="normal" fill="#000" textLength="24.4" lengthAdjust="spacingAndGlyphs" stroke="#000" stroke-width="0.7">HRC</text>
<text x="667.2" y="536.7" font-size="14" font-weight="normal" fill="#000" textLength="7.2" lengthAdjust="spacingAndGlyphs" stroke="#000" stroke-width="0.6">P</text>
<text x="675.6" y="539.3" font-size="5.6" font-weight="bold" fill="#000" textLength="15.2" lengthAdjust="spacingAndGlyphs" stroke="#000" stroke-width="0.4">DOM</text>
<text x="700.6" y="536.7" font-size="14" font-weight="normal" fill="#000" textLength="20.0" lengthAdjust="spacingAndGlyphs" stroke="#000" stroke-width="0.6">(s)</text>
<g stroke="#3a2a10" stroke-opacity="0.75" stroke-width="1">
<polygon points="683.5,119.4 689.2,99.3 692.0,99.3 697.6,119.4" fill="#a50000"/>
<rect x="683.5" y="119.40" width="14.1" height="18.68" fill="#c00000"/>
<rect x="683.5" y="138.08" width="14.1" height="18.68" fill="#e11400"/>
<rect x="683.5" y="156.75" width="14.1" height="18.68" fill="#ff3200"/>
<rect x="683.5" y="175.43" width="14.1" height="18.68" fill="#ff6000"/>
<rect x="683.5" y="194.10" width="14.1" height="18.68" fill="#ffa000"/>
<rect x="683.5" y="212.78" width="14.1" height="18.68" fill="#ffc03c"/>
<rect x="683.5" y="231.45" width="14.1" height="18.68" fill="#ffe878"/>
<rect x="683.5" y="250.12" width="14.1" height="18.68" fill="#fffaaa"/>
<rect x="683.5" y="268.80" width="14.1" height="18.68" fill="#1464d2"/>
<rect x="683.5" y="287.48" width="14.1" height="18.68" fill="#2882f0"/>
<rect x="683.5" y="306.15" width="14.1" height="18.68" fill="#50a5f5"/>
<rect x="683.5" y="324.83" width="14.1" height="18.68" fill="#78b9fa"/>
<rect x="683.5" y="343.50" width="14.1" height="18.68" fill="#96d2fa"/>
<rect x="683.5" y="362.18" width="14.1" height="18.68" fill="#b4f0fa"/>
<rect x="683.5" y="380.85" width="14.1" height="18.68" fill="#d2fcc0"/>
<rect x="683.5" y="399.52" width="14.1" height="18.68" fill="#b4faaa"/>
<rect x="683.5" y="418.20" width="14.1" height="18.68" fill="#96f58c"/>
<rect x="683.5" y="436.88" width="14.1" height="18.68" fill="#50f050"/>
<rect x="683.5" y="455.55" width="14.1" height="18.68" fill="#37d23c"/>
<rect x="683.5" y="474.23" width="14.1" height="18.68" fill="#1eb41e"/>
<polygon points="683.5,492.9 697.6,492.9 691.6,512.0 689.6,512.0" fill="#0fa00f"/>
</g>
<text x="700.2" y="123.5" font-size="11.5" font-weight="bold" fill="#000" textLength="14.0" lengthAdjust="spacingAndGlyphs">24</text>
<text x="700.2" y="142.2" font-size="11.5" font-weight="bold" fill="#000" textLength="14.0" lengthAdjust="spacingAndGlyphs">23</text>
<text x="700.2" y="160.8" font-size="11.5" font-weight="bold" fill="#000" textLength="14.0" lengthAdjust="spacingAndGlyphs">22</text>
<text x="700.2" y="179.5" font-size="11.5" font-weight="bold" fill="#000" textLength="14.0" lengthAdjust="spacingAndGlyphs">21</text>
<text x="700.2" y="198.2" font-size="11.5" font-weight="bold" fill="#000" textLength="14.0" lengthAdjust="spacingAndGlyphs">20</text>
<text x="700.2" y="216.9" font-size="11.5" font-weight="bold" fill="#000" textLength="14.0" lengthAdjust="spacingAndGlyphs">19</text>
<text x="700.2" y="235.6" font-size="11.5" font-weight="bold" fill="#000" textLength="14.0" lengthAdjust="spacingAndGlyphs">18</text>
<text x="700.2" y="254.2" font-size="11.5" font-weight="bold" fill="#000" textLength="14.0" lengthAdjust="spacingAndGlyphs">17</text>
<text x="700.2" y="272.9" font-size="11.5" font-weight="bold" fill="#000" textLength="14.0" lengthAdjust="spacingAndGlyphs">16</text>
<text x="700.2" y="291.6" font-size="11.5" font-weight="bold" fill="#000" textLength="14.0" lengthAdjust="spacingAndGlyphs">15</text>
<text x="700.2" y="310.2" font-size="11.5" font-weight="bold" fill="#000" textLength="14.0" lengthAdjust="spacingAndGlyphs">13</text>
<text x="700.2" y="328.9" font-size="11.5" font-weight="bold" fill="#000" textLength="14.0" lengthAdjust="spacingAndGlyphs">12</text>
<text x="700.2" y="347.6" font-size="11.5" font-weight="bold" fill="#000" textLength="14.0" lengthAdjust="spacingAndGlyphs">11</text>
<text x="700.2" y="366.3" font-size="11.5" font-weight="bold" fill="#000" textLength="14.0" lengthAdjust="spacingAndGlyphs">10</text>
<text x="700.4" y="385.0" font-size="11.5" font-weight="bold" fill="#000" textLength="6.6" lengthAdjust="spacingAndGlyphs">9</text>
<text x="700.4" y="403.6" font-size="11.5" font-weight="bold" fill="#000" textLength="6.6" lengthAdjust="spacingAndGlyphs">8</text>
<text x="700.4" y="422.3" font-size="11.5" font-weight="bold" fill="#000" textLength="6.6" lengthAdjust="spacingAndGlyphs">7</text>
<text x="700.4" y="441.0" font-size="11.5" font-weight="bold" fill="#000" textLength="6.6" lengthAdjust="spacingAndGlyphs">6</text>
<text x="700.4" y="459.7" font-size="11.5" font-weight="bold" fill="#000" textLength="6.6" lengthAdjust="spacingAndGlyphs">5</text>
<text x="700.4" y="478.3" font-size="11.5" font-weight="bold" fill="#000" textLength="6.6" lengthAdjust="spacingAndGlyphs">4</text>
<text x="700.4" y="497.0" font-size="11.5" font-weight="bold" fill="#000" textLength="6.6" lengthAdjust="spacingAndGlyphs">3</text>
</svg>
</body></html>
